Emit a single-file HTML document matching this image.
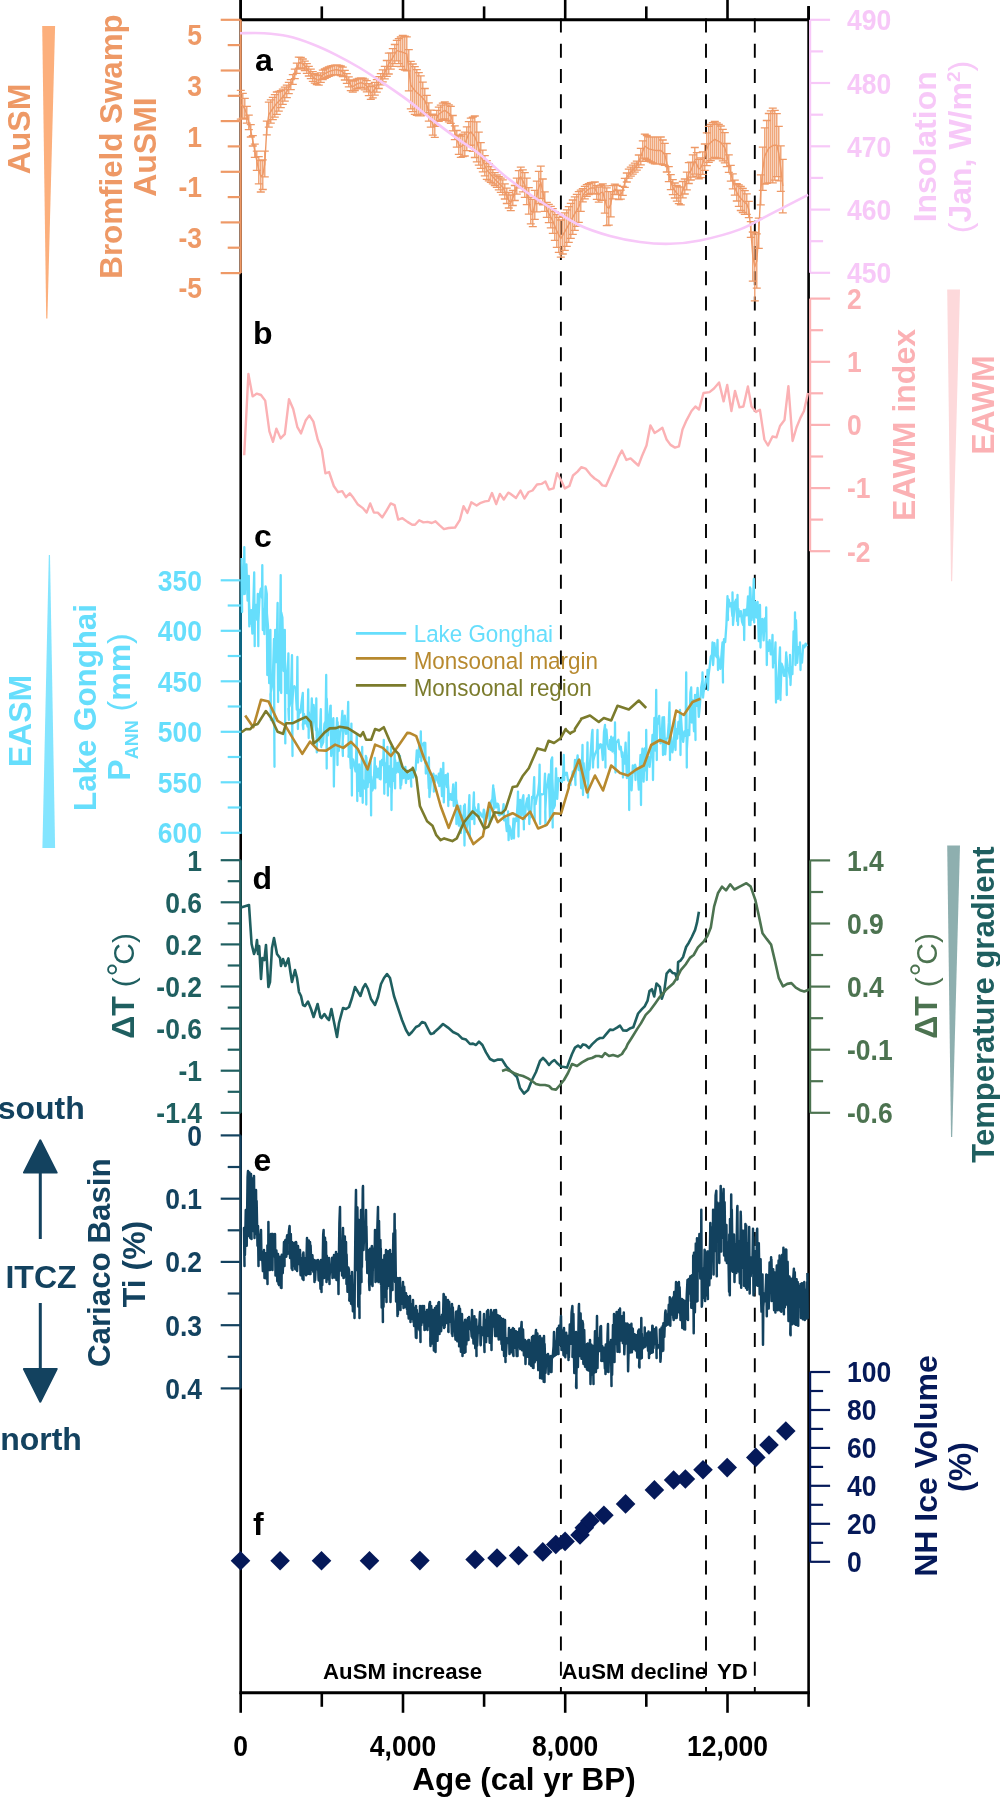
<!DOCTYPE html>
<html><head><meta charset="utf-8"><style>
html,body{margin:0;padding:0;background:#fff;width:1000px;height:1797px;overflow:hidden}
svg{display:block;will-change:transform}
text{font-family:"Liberation Sans", sans-serif}
</style></head><body>
<svg width="1000" height="1797" viewBox="0 0 1000 1797">
<rect width="1000" height="1797" fill="#fff"/>
<line x1="239.5" y1="19.8" x2="809.8" y2="19.8" stroke="#000" stroke-width="3" />
<line x1="239.5" y1="1692.8" x2="809.8" y2="1692.8" stroke="#000" stroke-width="3" />
<line x1="240.7" y1="0.0" x2="240.7" y2="1693.8" stroke="#000" stroke-width="2.6" />
<line x1="808.6" y1="6.0" x2="808.6" y2="1693.8" stroke="#000" stroke-width="2.6" />
<line x1="240.7" y1="19.8" x2="240.7" y2="-1.2" stroke="#000" stroke-width="2.6" />
<line x1="240.7" y1="1692.8" x2="240.7" y2="1712.8" stroke="#000" stroke-width="2.6" />
<line x1="321.8" y1="19.8" x2="321.8" y2="6.4" stroke="#000" stroke-width="2.6" />
<line x1="321.8" y1="1692.8" x2="321.8" y2="1706.8" stroke="#000" stroke-width="2.6" />
<line x1="403.0" y1="19.8" x2="403.0" y2="-1.2" stroke="#000" stroke-width="2.6" />
<line x1="403.0" y1="1692.8" x2="403.0" y2="1712.8" stroke="#000" stroke-width="2.6" />
<line x1="484.1" y1="19.8" x2="484.1" y2="6.4" stroke="#000" stroke-width="2.6" />
<line x1="484.1" y1="1692.8" x2="484.1" y2="1706.8" stroke="#000" stroke-width="2.6" />
<line x1="565.2" y1="19.8" x2="565.2" y2="-1.2" stroke="#000" stroke-width="2.6" />
<line x1="565.2" y1="1692.8" x2="565.2" y2="1712.8" stroke="#000" stroke-width="2.6" />
<line x1="646.3" y1="19.8" x2="646.3" y2="6.4" stroke="#000" stroke-width="2.6" />
<line x1="646.3" y1="1692.8" x2="646.3" y2="1706.8" stroke="#000" stroke-width="2.6" />
<line x1="727.5" y1="19.8" x2="727.5" y2="-1.2" stroke="#000" stroke-width="2.6" />
<line x1="727.5" y1="1692.8" x2="727.5" y2="1712.8" stroke="#000" stroke-width="2.6" />
<line x1="808.6" y1="19.8" x2="808.6" y2="6.4" stroke="#000" stroke-width="2.6" />
<line x1="808.6" y1="1692.8" x2="808.6" y2="1706.8" stroke="#000" stroke-width="2.6" />
<text x="0" y="0" fill="#000" font-size="26.5" font-weight="bold" text-anchor="middle" transform="translate(240.7 1756.0) scale(1 1.09)" >0</text>
<text x="0" y="0" fill="#000" font-size="26.5" font-weight="bold" text-anchor="middle" transform="translate(403.0 1756.0) scale(1 1.09)" >4,000</text>
<text x="0" y="0" fill="#000" font-size="26.5" font-weight="bold" text-anchor="middle" transform="translate(565.2 1756.0) scale(1 1.09)" >8,000</text>
<text x="0" y="0" fill="#000" font-size="26.5" font-weight="bold" text-anchor="middle" transform="translate(727.5 1756.0) scale(1 1.09)" >12,000</text>
<text x="524.0" y="1790.0" fill="#000" font-size="31.4" font-weight="bold" text-anchor="middle" >Age (cal yr BP)</text>
<line x1="560.9" y1="18.5" x2="560.9" y2="1692.8" stroke="#000" stroke-width="1.9" stroke-dasharray="14 11.28"/>
<line x1="706.0" y1="18.5" x2="706.0" y2="1692.8" stroke="#000" stroke-width="1.9" stroke-dasharray="14 11.28"/>
<line x1="754.8" y1="18.5" x2="754.8" y2="1692.8" stroke="#000" stroke-width="1.9" stroke-dasharray="14 11.28"/>
<line x1="240.7" y1="19.8" x2="240.7" y2="273.1" stroke="#EE9966" stroke-width="2.2" />
<line x1="240.7" y1="19.8" x2="220.7" y2="19.8" stroke="#EE9966" stroke-width="2.2" />
<line x1="240.7" y1="45.1" x2="227.7" y2="45.1" stroke="#EE9966" stroke-width="2.2" />
<line x1="240.7" y1="70.5" x2="220.7" y2="70.5" stroke="#EE9966" stroke-width="2.2" />
<line x1="240.7" y1="95.8" x2="227.7" y2="95.8" stroke="#EE9966" stroke-width="2.2" />
<line x1="240.7" y1="121.1" x2="220.7" y2="121.1" stroke="#EE9966" stroke-width="2.2" />
<line x1="240.7" y1="146.4" x2="227.7" y2="146.4" stroke="#EE9966" stroke-width="2.2" />
<line x1="240.7" y1="171.8" x2="220.7" y2="171.8" stroke="#EE9966" stroke-width="2.2" />
<line x1="240.7" y1="197.1" x2="227.7" y2="197.1" stroke="#EE9966" stroke-width="2.2" />
<line x1="240.7" y1="222.4" x2="220.7" y2="222.4" stroke="#EE9966" stroke-width="2.2" />
<line x1="240.7" y1="247.7" x2="227.7" y2="247.7" stroke="#EE9966" stroke-width="2.2" />
<line x1="240.7" y1="273.1" x2="220.7" y2="273.1" stroke="#EE9966" stroke-width="2.2" />
<text x="0" y="0" fill="#EE9966" font-size="26.5" font-weight="bold" text-anchor="end" transform="translate(202.0 45.2) scale(1 1.09)" >5</text>
<text x="0" y="0" fill="#EE9966" font-size="26.5" font-weight="bold" text-anchor="end" transform="translate(202.0 95.9) scale(1 1.09)" >3</text>
<text x="0" y="0" fill="#EE9966" font-size="26.5" font-weight="bold" text-anchor="end" transform="translate(202.0 146.5) scale(1 1.09)" >1</text>
<text x="0" y="0" fill="#EE9966" font-size="26.5" font-weight="bold" text-anchor="end" transform="translate(202.0 197.2) scale(1 1.09)" >-1</text>
<text x="0" y="0" fill="#EE9966" font-size="26.5" font-weight="bold" text-anchor="end" transform="translate(202.0 247.8) scale(1 1.09)" >-3</text>
<text x="0" y="0" fill="#EE9966" font-size="26.5" font-weight="bold" text-anchor="end" transform="translate(202.0 298.4) scale(1 1.09)" >-5</text>
<line x1="810.1" y1="19.8" x2="810.1" y2="272.8" stroke="#F7C8F8" stroke-width="2.2" />
<line x1="810.1" y1="19.8" x2="830.1" y2="19.8" stroke="#F7C8F8" stroke-width="2.2" />
<line x1="810.1" y1="51.4" x2="823.1" y2="51.4" stroke="#F7C8F8" stroke-width="2.2" />
<line x1="810.1" y1="83.0" x2="830.1" y2="83.0" stroke="#F7C8F8" stroke-width="2.2" />
<line x1="810.1" y1="114.7" x2="823.1" y2="114.7" stroke="#F7C8F8" stroke-width="2.2" />
<line x1="810.1" y1="146.3" x2="830.1" y2="146.3" stroke="#F7C8F8" stroke-width="2.2" />
<line x1="810.1" y1="177.9" x2="823.1" y2="177.9" stroke="#F7C8F8" stroke-width="2.2" />
<line x1="810.1" y1="209.6" x2="830.1" y2="209.6" stroke="#F7C8F8" stroke-width="2.2" />
<line x1="810.1" y1="241.2" x2="823.1" y2="241.2" stroke="#F7C8F8" stroke-width="2.2" />
<line x1="810.1" y1="272.8" x2="830.1" y2="272.8" stroke="#F7C8F8" stroke-width="2.2" />
<text x="0" y="0" fill="#F7C8F8" font-size="26.5" font-weight="bold" text-anchor="start" transform="translate(847.0 30.2) scale(1 1.09)" >490</text>
<text x="0" y="0" fill="#F7C8F8" font-size="26.5" font-weight="bold" text-anchor="start" transform="translate(847.0 93.5) scale(1 1.09)" >480</text>
<text x="0" y="0" fill="#F7C8F8" font-size="26.5" font-weight="bold" text-anchor="start" transform="translate(847.0 156.7) scale(1 1.09)" >470</text>
<text x="0" y="0" fill="#F7C8F8" font-size="26.5" font-weight="bold" text-anchor="start" transform="translate(847.0 220.0) scale(1 1.09)" >460</text>
<text x="0" y="0" fill="#F7C8F8" font-size="26.5" font-weight="bold" text-anchor="start" transform="translate(847.0 283.2) scale(1 1.09)" >450</text>
<line x1="810.1" y1="298.6" x2="810.1" y2="551.2" stroke="#FBB1B4" stroke-width="2.2" />
<line x1="810.1" y1="298.6" x2="830.1" y2="298.6" stroke="#FBB1B4" stroke-width="2.2" />
<line x1="810.1" y1="330.2" x2="823.1" y2="330.2" stroke="#FBB1B4" stroke-width="2.2" />
<line x1="810.1" y1="361.8" x2="830.1" y2="361.8" stroke="#FBB1B4" stroke-width="2.2" />
<line x1="810.1" y1="393.3" x2="823.1" y2="393.3" stroke="#FBB1B4" stroke-width="2.2" />
<line x1="810.1" y1="424.9" x2="830.1" y2="424.9" stroke="#FBB1B4" stroke-width="2.2" />
<line x1="810.1" y1="456.5" x2="823.1" y2="456.5" stroke="#FBB1B4" stroke-width="2.2" />
<line x1="810.1" y1="488.1" x2="830.1" y2="488.1" stroke="#FBB1B4" stroke-width="2.2" />
<line x1="810.1" y1="519.6" x2="823.1" y2="519.6" stroke="#FBB1B4" stroke-width="2.2" />
<line x1="810.1" y1="551.2" x2="830.1" y2="551.2" stroke="#FBB1B4" stroke-width="2.2" />
<text x="0" y="0" fill="#FBB1B4" font-size="26.5" font-weight="bold" text-anchor="start" transform="translate(847.0 309.0) scale(1 1.09)" >2</text>
<text x="0" y="0" fill="#FBB1B4" font-size="26.5" font-weight="bold" text-anchor="start" transform="translate(847.0 372.1) scale(1 1.09)" >1</text>
<text x="0" y="0" fill="#FBB1B4" font-size="26.5" font-weight="bold" text-anchor="start" transform="translate(847.0 435.3) scale(1 1.09)" >0</text>
<text x="0" y="0" fill="#FBB1B4" font-size="26.5" font-weight="bold" text-anchor="start" transform="translate(847.0 498.4) scale(1 1.09)" >-1</text>
<text x="0" y="0" fill="#FBB1B4" font-size="26.5" font-weight="bold" text-anchor="start" transform="translate(847.0 561.6) scale(1 1.09)" >-2</text>
<line x1="240.7" y1="600.0" x2="240.7" y2="834.0" stroke="#0C6683" stroke-width="2.6" />
<line x1="240.7" y1="580.3" x2="240.7" y2="832.8" stroke="#0C6683" stroke-width="2.2" />
<line x1="240.7" y1="580.3" x2="220.7" y2="580.3" stroke="#66DEFC" stroke-width="2.2" />
<line x1="240.7" y1="605.5" x2="227.7" y2="605.5" stroke="#66DEFC" stroke-width="2.2" />
<line x1="240.7" y1="630.8" x2="220.7" y2="630.8" stroke="#66DEFC" stroke-width="2.2" />
<line x1="240.7" y1="656.0" x2="227.7" y2="656.0" stroke="#66DEFC" stroke-width="2.2" />
<line x1="240.7" y1="681.3" x2="220.7" y2="681.3" stroke="#66DEFC" stroke-width="2.2" />
<line x1="240.7" y1="706.5" x2="227.7" y2="706.5" stroke="#66DEFC" stroke-width="2.2" />
<line x1="240.7" y1="731.8" x2="220.7" y2="731.8" stroke="#66DEFC" stroke-width="2.2" />
<line x1="240.7" y1="757.0" x2="227.7" y2="757.0" stroke="#66DEFC" stroke-width="2.2" />
<line x1="240.7" y1="782.3" x2="220.7" y2="782.3" stroke="#66DEFC" stroke-width="2.2" />
<line x1="240.7" y1="807.5" x2="227.7" y2="807.5" stroke="#66DEFC" stroke-width="2.2" />
<line x1="240.7" y1="832.8" x2="220.7" y2="832.8" stroke="#66DEFC" stroke-width="2.2" />
<text x="0" y="0" fill="#66DEFC" font-size="26.5" font-weight="bold" text-anchor="end" transform="translate(202.0 590.7) scale(1 1.09)" >350</text>
<text x="0" y="0" fill="#66DEFC" font-size="26.5" font-weight="bold" text-anchor="end" transform="translate(202.0 641.2) scale(1 1.09)" >400</text>
<text x="0" y="0" fill="#66DEFC" font-size="26.5" font-weight="bold" text-anchor="end" transform="translate(202.0 691.7) scale(1 1.09)" >450</text>
<text x="0" y="0" fill="#66DEFC" font-size="26.5" font-weight="bold" text-anchor="end" transform="translate(202.0 742.2) scale(1 1.09)" >500</text>
<text x="0" y="0" fill="#66DEFC" font-size="26.5" font-weight="bold" text-anchor="end" transform="translate(202.0 792.7) scale(1 1.09)" >550</text>
<text x="0" y="0" fill="#66DEFC" font-size="26.5" font-weight="bold" text-anchor="end" transform="translate(202.0 843.2) scale(1 1.09)" >600</text>
<line x1="240.7" y1="860.2" x2="240.7" y2="1112.8" stroke="#1F5F60" stroke-width="2.2" />
<line x1="240.7" y1="860.2" x2="220.7" y2="860.2" stroke="#1F5F60" stroke-width="2.2" />
<line x1="240.7" y1="881.2" x2="227.7" y2="881.2" stroke="#1F5F60" stroke-width="2.2" />
<line x1="240.7" y1="902.3" x2="220.7" y2="902.3" stroke="#1F5F60" stroke-width="2.2" />
<line x1="240.7" y1="923.4" x2="227.7" y2="923.4" stroke="#1F5F60" stroke-width="2.2" />
<line x1="240.7" y1="944.4" x2="220.7" y2="944.4" stroke="#1F5F60" stroke-width="2.2" />
<line x1="240.7" y1="965.5" x2="227.7" y2="965.5" stroke="#1F5F60" stroke-width="2.2" />
<line x1="240.7" y1="986.5" x2="220.7" y2="986.5" stroke="#1F5F60" stroke-width="2.2" />
<line x1="240.7" y1="1007.6" x2="227.7" y2="1007.6" stroke="#1F5F60" stroke-width="2.2" />
<line x1="240.7" y1="1028.6" x2="220.7" y2="1028.6" stroke="#1F5F60" stroke-width="2.2" />
<line x1="240.7" y1="1049.7" x2="227.7" y2="1049.7" stroke="#1F5F60" stroke-width="2.2" />
<line x1="240.7" y1="1070.7" x2="220.7" y2="1070.7" stroke="#1F5F60" stroke-width="2.2" />
<line x1="240.7" y1="1091.8" x2="227.7" y2="1091.8" stroke="#1F5F60" stroke-width="2.2" />
<line x1="240.7" y1="1112.8" x2="220.7" y2="1112.8" stroke="#1F5F60" stroke-width="2.2" />
<text x="0" y="0" fill="#1F5F60" font-size="26.5" font-weight="bold" text-anchor="end" transform="translate(202.0 870.6) scale(1 1.09)" >1</text>
<text x="0" y="0" fill="#1F5F60" font-size="26.5" font-weight="bold" text-anchor="end" transform="translate(202.0 912.7) scale(1 1.09)" >0.6</text>
<text x="0" y="0" fill="#1F5F60" font-size="26.5" font-weight="bold" text-anchor="end" transform="translate(202.0 954.8) scale(1 1.09)" >0.2</text>
<text x="0" y="0" fill="#1F5F60" font-size="26.5" font-weight="bold" text-anchor="end" transform="translate(202.0 996.9) scale(1 1.09)" >-0.2</text>
<text x="0" y="0" fill="#1F5F60" font-size="26.5" font-weight="bold" text-anchor="end" transform="translate(202.0 1039.0) scale(1 1.09)" >-0.6</text>
<text x="0" y="0" fill="#1F5F60" font-size="26.5" font-weight="bold" text-anchor="end" transform="translate(202.0 1081.1) scale(1 1.09)" >-1</text>
<text x="0" y="0" fill="#1F5F60" font-size="26.5" font-weight="bold" text-anchor="end" transform="translate(202.0 1123.2) scale(1 1.09)" >-1.4</text>
<line x1="810.1" y1="860.4" x2="810.1" y2="1112.8" stroke="#4C7350" stroke-width="2.2" />
<line x1="810.1" y1="860.4" x2="830.1" y2="860.4" stroke="#4C7350" stroke-width="2.2" />
<line x1="810.1" y1="892.0" x2="823.1" y2="892.0" stroke="#4C7350" stroke-width="2.2" />
<line x1="810.1" y1="923.5" x2="830.1" y2="923.5" stroke="#4C7350" stroke-width="2.2" />
<line x1="810.1" y1="955.0" x2="823.1" y2="955.0" stroke="#4C7350" stroke-width="2.2" />
<line x1="810.1" y1="986.6" x2="830.1" y2="986.6" stroke="#4C7350" stroke-width="2.2" />
<line x1="810.1" y1="1018.2" x2="823.1" y2="1018.2" stroke="#4C7350" stroke-width="2.2" />
<line x1="810.1" y1="1049.7" x2="830.1" y2="1049.7" stroke="#4C7350" stroke-width="2.2" />
<line x1="810.1" y1="1081.2" x2="823.1" y2="1081.2" stroke="#4C7350" stroke-width="2.2" />
<line x1="810.1" y1="1112.8" x2="830.1" y2="1112.8" stroke="#4C7350" stroke-width="2.2" />
<text x="0" y="0" fill="#4C7350" font-size="26.5" font-weight="bold" text-anchor="start" transform="translate(847.0 870.8) scale(1 1.09)" >1.4</text>
<text x="0" y="0" fill="#4C7350" font-size="26.5" font-weight="bold" text-anchor="start" transform="translate(847.0 933.9) scale(1 1.09)" >0.9</text>
<text x="0" y="0" fill="#4C7350" font-size="26.5" font-weight="bold" text-anchor="start" transform="translate(847.0 997.0) scale(1 1.09)" >0.4</text>
<text x="0" y="0" fill="#4C7350" font-size="26.5" font-weight="bold" text-anchor="start" transform="translate(847.0 1060.1) scale(1 1.09)" >-0.1</text>
<text x="0" y="0" fill="#4C7350" font-size="26.5" font-weight="bold" text-anchor="start" transform="translate(847.0 1123.2) scale(1 1.09)" >-0.6</text>
<line x1="240.7" y1="1135.4" x2="240.7" y2="1388.4" stroke="#13425F" stroke-width="2.2" />
<line x1="240.7" y1="1135.4" x2="220.7" y2="1135.4" stroke="#13425F" stroke-width="2.2" />
<line x1="240.7" y1="1167.0" x2="227.7" y2="1167.0" stroke="#13425F" stroke-width="2.2" />
<line x1="240.7" y1="1198.7" x2="220.7" y2="1198.7" stroke="#13425F" stroke-width="2.2" />
<line x1="240.7" y1="1230.3" x2="227.7" y2="1230.3" stroke="#13425F" stroke-width="2.2" />
<line x1="240.7" y1="1261.9" x2="220.7" y2="1261.9" stroke="#13425F" stroke-width="2.2" />
<line x1="240.7" y1="1293.5" x2="227.7" y2="1293.5" stroke="#13425F" stroke-width="2.2" />
<line x1="240.7" y1="1325.2" x2="220.7" y2="1325.2" stroke="#13425F" stroke-width="2.2" />
<line x1="240.7" y1="1356.8" x2="227.7" y2="1356.8" stroke="#13425F" stroke-width="2.2" />
<line x1="240.7" y1="1388.4" x2="220.7" y2="1388.4" stroke="#13425F" stroke-width="2.2" />
<text x="0" y="0" fill="#13425F" font-size="26.5" font-weight="bold" text-anchor="end" transform="translate(202.0 1145.8) scale(1 1.09)" >0</text>
<text x="0" y="0" fill="#13425F" font-size="26.5" font-weight="bold" text-anchor="end" transform="translate(202.0 1209.1) scale(1 1.09)" >0.1</text>
<text x="0" y="0" fill="#13425F" font-size="26.5" font-weight="bold" text-anchor="end" transform="translate(202.0 1272.3) scale(1 1.09)" >0.2</text>
<text x="0" y="0" fill="#13425F" font-size="26.5" font-weight="bold" text-anchor="end" transform="translate(202.0 1335.6) scale(1 1.09)" >0.3</text>
<text x="0" y="0" fill="#13425F" font-size="26.5" font-weight="bold" text-anchor="end" transform="translate(202.0 1398.8) scale(1 1.09)" >0.4</text>
<line x1="810.1" y1="1372.0" x2="810.1" y2="1561.8" stroke="#051959" stroke-width="2.2" />
<line x1="810.1" y1="1372.0" x2="830.1" y2="1372.0" stroke="#051959" stroke-width="2.2" />
<line x1="810.1" y1="1391.0" x2="823.1" y2="1391.0" stroke="#051959" stroke-width="2.2" />
<line x1="810.1" y1="1410.0" x2="830.1" y2="1410.0" stroke="#051959" stroke-width="2.2" />
<line x1="810.1" y1="1428.9" x2="823.1" y2="1428.9" stroke="#051959" stroke-width="2.2" />
<line x1="810.1" y1="1447.9" x2="830.1" y2="1447.9" stroke="#051959" stroke-width="2.2" />
<line x1="810.1" y1="1466.9" x2="823.1" y2="1466.9" stroke="#051959" stroke-width="2.2" />
<line x1="810.1" y1="1485.8" x2="830.1" y2="1485.8" stroke="#051959" stroke-width="2.2" />
<line x1="810.1" y1="1504.8" x2="823.1" y2="1504.8" stroke="#051959" stroke-width="2.2" />
<line x1="810.1" y1="1523.8" x2="830.1" y2="1523.8" stroke="#051959" stroke-width="2.2" />
<line x1="810.1" y1="1542.8" x2="823.1" y2="1542.8" stroke="#051959" stroke-width="2.2" />
<line x1="810.1" y1="1561.8" x2="830.1" y2="1561.8" stroke="#051959" stroke-width="2.2" />
<text x="0" y="0" fill="#051959" font-size="26.5" font-weight="bold" text-anchor="start" transform="translate(847.0 1382.4) scale(1 1.09)" >100</text>
<text x="0" y="0" fill="#051959" font-size="26.5" font-weight="bold" text-anchor="start" transform="translate(847.0 1420.4) scale(1 1.09)" >80</text>
<text x="0" y="0" fill="#051959" font-size="26.5" font-weight="bold" text-anchor="start" transform="translate(847.0 1458.3) scale(1 1.09)" >60</text>
<text x="0" y="0" fill="#051959" font-size="26.5" font-weight="bold" text-anchor="start" transform="translate(847.0 1496.2) scale(1 1.09)" >40</text>
<text x="0" y="0" fill="#051959" font-size="26.5" font-weight="bold" text-anchor="start" transform="translate(847.0 1534.2) scale(1 1.09)" >20</text>
<text x="0" y="0" fill="#051959" font-size="26.5" font-weight="bold" text-anchor="start" transform="translate(847.0 1572.2) scale(1 1.09)" >0</text>
<text x="30.3" y="129.0" fill="#EE9966" font-size="32" font-weight="bold" text-anchor="middle" transform="rotate(-90 30.3 129.0)" >AuSM</text>
<polygon points="42.2,26 55.1,26 47.4,318.6 46.199999999999996,318.6" fill="#FCAF7C"/>
<text x="121.5" y="146.5" fill="#EE9966" font-size="31.3" font-weight="bold" text-anchor="middle" transform="rotate(-90 121.5 146.5)" >Bromfield Swamp</text>
<text x="156.0" y="147.0" fill="#EE9966" font-size="32" font-weight="bold" text-anchor="middle" transform="rotate(-90 156.0 147.0)" >AuSMI</text>
<text x="936.0" y="146.8" fill="#F7C8F8" font-size="32" font-weight="bold" text-anchor="middle" transform="rotate(-90 936.0 146.8)" >Insolation</text>
<text x="970.5" y="147.0" fill="#F7C8F8" font-size="32" font-weight="bold" text-anchor="middle" transform="rotate(-90 970.5 147.0)" ><tspan font-weight="normal">(</tspan>Jan, W/m<tspan font-size="19" dy="-11">2</tspan><tspan dy="11" font-weight="normal">)</tspan></text>
<text x="915.0" y="425.0" fill="#FBB1B4" font-size="32" font-weight="bold" text-anchor="middle" transform="rotate(-90 915.0 425.0)" >EAWM index</text>
<polygon points="947.2,289.4 960,289.4 952.2,581.3 951.0,581.3" fill="#FDD9DB"/>
<text x="994.0" y="405.0" fill="#FBB1B4" font-size="32" font-weight="bold" text-anchor="middle" transform="rotate(-90 994.0 405.0)" >EAWM</text>
<text x="31.0" y="721.0" fill="#66DEFC" font-size="32" font-weight="bold" text-anchor="middle" transform="rotate(-90 31.0 721.0)" >EASM</text>
<polygon points="48.8,555.1 50.0,555.1 55.1,848.1 42.4,848.1" fill="#84E5FF"/>
<text x="95.5" y="707.5" fill="#66DEFC" font-size="31.3" font-weight="bold" text-anchor="middle" transform="rotate(-90 95.5 707.5)" >Lake Gonghai</text>
<text x="130.2" y="780.7" fill="#66DEFC" font-size="32" font-weight="bold" text-anchor="start" transform="rotate(-90 130.2 780.7)" >P<tspan font-size="18" dy="7.6">ANN</tspan><tspan dy="-7.6" font-weight="normal"> (</tspan>mm<tspan font-weight="normal">)</tspan></text>
<text x="134.1" y="1038.7" fill="#1F5F60" font-size="32" font-weight="bold" text-anchor="start" transform="rotate(-90 134.1 1038.7)" >ΔT <tspan font-weight="normal" font-size="30">(<tspan font-size="35" dy="-2.2" dx="0.8">°</tspan><tspan dy="2.2" dx="-2.2">C)</tspan></tspan></text>
<text x="937.4" y="1038.7" fill="#4C7350" font-size="32" font-weight="bold" text-anchor="start" transform="rotate(-90 937.4 1038.7)" >ΔT <tspan font-weight="normal" font-size="30">(<tspan font-size="35" dy="-2.2" dx="0.8">°</tspan><tspan dy="2.2" dx="-2.2">C)</tspan></tspan></text>
<polygon points="947.2,845.4 960,845.4 952.2,1137 951.0,1137" fill="#8EAFAF"/>
<text x="994.0" y="1004.5" fill="#1F5F60" font-size="31" font-weight="bold" text-anchor="middle" transform="rotate(-90 994.0 1004.5)" >Temperature gradient</text>
<text x="-2.3" y="1118.5" fill="#13425F" font-size="32" font-weight="bold" text-anchor="start" >south</text>
<text x="41.0" y="1287.5" fill="#13425F" font-size="32" font-weight="bold" text-anchor="middle" >ITCZ</text>
<text x="41.0" y="1450.0" fill="#13425F" font-size="32" font-weight="bold" text-anchor="middle" >north</text>
<polygon points="40.3,1140.3 56.7,1172.6 23.9,1172.6" fill="#13425F" stroke="#13425F" stroke-width="2" stroke-linejoin="round"/>
<line x1="40.3" y1="1173.0" x2="40.3" y2="1239.0" stroke="#13425F" stroke-width="3" />
<polygon points="40.3,1401.7 56.7,1369 23.9,1369" fill="#13425F" stroke="#13425F" stroke-width="2" stroke-linejoin="round"/>
<line x1="40.3" y1="1303.0" x2="40.3" y2="1369.0" stroke="#13425F" stroke-width="3" />
<text x="110.5" y="1262.7" fill="#13425F" font-size="31.3" font-weight="bold" text-anchor="middle" transform="rotate(-90 110.5 1262.7)" >Cariaco Basin</text>
<text x="144.7" y="1264.0" fill="#13425F" font-size="32" font-weight="bold" text-anchor="middle" transform="rotate(-90 144.7 1264.0)" >Ti (%)</text>
<text x="936.6" y="1466.0" fill="#051959" font-size="32" font-weight="bold" text-anchor="middle" transform="rotate(-90 936.6 1466.0)" >NH Ice Volume</text>
<text x="970.5" y="1467.0" fill="#051959" font-size="32" font-weight="bold" text-anchor="middle" transform="rotate(-90 970.5 1467.0)" >(%)</text>
<text x="255.0" y="71.3" fill="#000" font-size="32" font-weight="bold" text-anchor="start" >a</text>
<text x="253.0" y="344.2" fill="#000" font-size="32" font-weight="bold" text-anchor="start" >b</text>
<text x="254.1" y="546.7" fill="#000" font-size="32" font-weight="bold" text-anchor="start" >c</text>
<text x="252.5" y="888.5" fill="#000" font-size="32" font-weight="bold" text-anchor="start" >d</text>
<text x="253.5" y="1171.0" fill="#000" font-size="32" font-weight="bold" text-anchor="start" >e</text>
<text x="253.0" y="1534.5" fill="#000" font-size="32" font-weight="bold" text-anchor="start" >f</text>
<text x="323.1" y="1679.3" fill="#000" font-size="22.2" font-weight="bold" text-anchor="start" >AuSM increase</text>
<text x="561.6" y="1679.3" fill="#000" font-size="22.2" font-weight="bold" text-anchor="start" >AuSM decline</text>
<text x="717.0" y="1679.3" fill="#000" font-size="22.2" font-weight="bold" text-anchor="start" >YD</text>
<line x1="355.9" y1="633.4" x2="406.2" y2="633.4" stroke="#66DEFC" stroke-width="2.6" />
<line x1="355.9" y1="658.4" x2="406.2" y2="658.4" stroke="#B7892E" stroke-width="2.6" />
<line x1="355.9" y1="685.4" x2="406.2" y2="685.4" stroke="#7B7B2C" stroke-width="2.6" />
<text x="0" y="0" fill="#66DEFC" font-size="22.4" font-weight="normal" text-anchor="start" transform="translate(413.7 641.5) scale(1 1.1)" >Lake Gonghai</text>
<text x="0" y="0" fill="#B7892E" font-size="22.4" font-weight="normal" text-anchor="start" transform="translate(413.7 668.8) scale(1 1.1)" >Monsoonal margin</text>
<text x="0" y="0" fill="#7B7B2C" font-size="22.4" font-weight="normal" text-anchor="start" transform="translate(413.7 696.0) scale(1 1.1)" >Monsoonal region</text>
<path d="M240.8 90.4V119.2M236.8 90.4h8M236.8 119.2h8M242.8 93.4V118.2M238.8 93.4h8M238.8 118.2h8M244.8 98.4V119.2M240.8 98.4h8M240.8 119.2h8M246.8 106.4V123.2M242.8 106.4h8M242.8 123.2h8M248.8 115.2V129.6M244.8 115.2h8M244.8 129.6h8M250.8 124.6V137.0M246.8 124.6h8M246.8 137.0h8M252.8 135.6V146.0M248.8 135.6h8M248.8 146.0h8M254.8 144.2V157.4M250.8 144.2h8M250.8 157.4h8M256.8 151.2V170.4M252.8 151.2h8M252.8 170.4h8M258.8 156.7V183.9M254.8 156.7h8M254.8 183.9h8M260.8 160.5V192.0M256.8 160.5h8M256.8 192.0h8M262.8 159.9V189.5M258.8 159.9h8M258.8 189.5h8M264.8 151.2V176.8M260.8 151.2h8M260.8 176.8h8M266.8 121.2V134.8M262.8 121.2h8M262.8 134.8h8M268.8 102.2V127.2M264.8 102.2h8M264.8 127.2h8M270.8 99.8V123.2M266.8 99.8h8M266.8 123.2h8M272.8 97.3V119.7M268.8 97.3h8M268.8 119.7h8M274.8 94.7V117.1M270.8 94.7h8M270.8 117.1h8M276.8 92.0V114.4M272.8 92.0h8M272.8 114.4h8M278.8 91.3V111.1M274.8 91.3h8M274.8 111.1h8M280.8 90.7V107.7M276.8 90.7h8M276.8 107.7h8M282.8 89.2V104.4M278.8 89.2h8M278.8 104.4h8M284.8 87.2V101.1M280.8 87.2h8M280.8 101.1h8M286.8 85.1V97.6M282.8 85.1h8M282.8 97.6h8M288.8 82.4V93.6M284.8 82.4h8M284.8 93.6h8M290.8 79.7V89.6M286.8 79.7h8M286.8 89.6h8M292.8 74.7V84.3M288.8 74.7h8M288.8 84.3h8M294.8 69.1V78.7M290.8 69.1h8M290.8 78.7h8M296.8 63.2V73.4M292.8 63.2h8M292.8 73.4h8M298.8 57.2V68.2M294.8 57.2h8M294.8 68.2h8M300.8 57.3V68.0M296.8 57.3h8M296.8 68.0h8M302.8 59.0V69.0M298.8 59.0h8M298.8 69.0h8M304.8 61.1V70.7M300.8 61.1h8M300.8 70.7h8M306.8 63.7V73.3M302.8 63.7h8M302.8 73.3h8M308.8 66.4V76.0M304.8 66.4h8M304.8 76.0h8M310.8 69.1V78.7M306.8 69.1h8M306.8 78.7h8M312.8 71.7V81.3M308.8 71.7h8M308.8 81.3h8M314.8 73.6V83.2M310.8 73.6h8M310.8 83.2h8M316.8 74.9V84.5M312.8 74.9h8M312.8 84.5h8M318.8 75.5V85.1M314.8 75.5h8M314.8 85.1h8M320.8 72.8V82.4M316.8 72.8h8M316.8 82.4h8M322.8 70.1V79.7M318.8 70.1h8M318.8 79.7h8M324.8 68.8V78.4M320.8 68.8h8M320.8 78.4h8M326.8 67.8V77.4M322.8 67.8h8M322.8 77.4h8M328.8 66.8V76.4M324.8 66.8h8M324.8 76.4h8M330.8 66.1V75.7M326.8 66.1h8M326.8 75.7h8M332.8 65.6V75.2M328.8 65.6h8M328.8 75.2h8M334.8 65.1V74.7M330.8 65.1h8M330.8 74.7h8M336.8 65.0V74.6M332.8 65.0h8M332.8 74.6h8M338.8 65.5V75.1M334.8 65.5h8M334.8 75.1h8M340.8 66.0V75.6M336.8 66.0h8M336.8 75.6h8M342.8 67.1V76.7M338.8 67.1h8M338.8 76.7h8M344.8 70.4V80.0M340.8 70.4h8M340.8 80.0h8M346.8 73.7V83.3M342.8 73.7h8M342.8 83.3h8M348.8 76.8V86.9M344.8 76.8h8M344.8 86.9h8M350.8 79.8V90.6M346.8 79.8h8M346.8 90.6h8M352.8 81.2V92.1M348.8 81.2h8M348.8 92.1h8M354.8 80.2V90.5M350.8 80.2h8M350.8 90.5h8M356.8 79.2V88.8M352.8 79.2h8M352.8 88.8h8M358.8 78.5V88.1M354.8 78.5h8M354.8 88.1h8M360.8 77.9V87.5M356.8 77.9h8M356.8 87.5h8M362.8 78.2V88.2M358.8 78.2h8M358.8 88.2h8M364.8 79.2V89.9M360.8 79.2h8M360.8 89.9h8M366.8 80.6V91.9M362.8 80.6h8M362.8 91.9h8M368.8 83.6V95.6M364.8 83.6h8M364.8 95.6h8M370.8 86.6V99.3M366.8 86.6h8M366.8 99.3h8M372.8 85.1V97.9M368.8 85.1h8M368.8 97.9h8M374.8 82.4V95.2M370.8 82.4h8M370.8 95.2h8M376.8 79.6V92.1M372.8 79.6h8M372.8 92.1h8M378.8 76.6V88.5M374.8 76.6h8M374.8 88.5h8M380.8 73.6V84.8M376.8 73.6h8M376.8 84.8h8M382.8 69.9V81.8M378.8 69.9h8M378.8 81.8h8M384.8 66.3V78.8M380.8 66.3h8M380.8 78.8h8M386.8 60.5V76.3M382.8 60.5h8M382.8 76.3h8M388.8 53.2V74.0M384.8 53.2h8M384.8 74.0h8M390.8 52.8V69.1M386.8 52.8h8M386.8 69.1h8M392.8 48.7V66.3M388.8 48.7h8M388.8 66.3h8M394.8 44.5V63.6M390.8 44.5h8M390.8 63.6h8M396.8 40.4V60.8M392.8 40.4h8M392.8 60.8h8M398.8 38.7V63.7M394.8 38.7h8M394.8 63.7h8M400.8 37.0V66.5M396.8 37.0h8M396.8 66.5h8M402.8 35.3V69.3M398.8 35.3h8M398.8 69.3h8M404.8 36.1V70.1M400.8 36.1h8M400.8 70.1h8M406.8 36.9V70.9M402.8 36.9h8M402.8 70.9h8M408.8 49.6V90.8M404.8 49.6h8M404.8 90.8h8M410.8 61.3V108.9M406.8 61.3h8M406.8 108.9h8M412.8 64.0V111.6M408.8 64.0h8M408.8 111.6h8M414.8 66.7V114.3M410.8 66.7h8M410.8 114.3h8M416.8 69.6V115.4M412.8 69.6h8M412.8 115.4h8M418.8 72.6V115.8M414.8 72.6h8M414.8 115.8h8M420.8 75.9V115.9M416.8 75.9h8M416.8 115.9h8M422.8 82.2V114.2M418.8 82.2h8M418.8 114.2h8M424.8 88.5V112.6M420.8 88.5h8M420.8 112.6h8M426.8 95.4V115.1M422.8 95.4h8M422.8 115.1h8M428.8 102.8V121.1M424.8 102.8h8M424.8 121.1h8M430.8 110.1V127.1M426.8 110.1h8M426.8 127.1h8M432.8 114.1V135.1M428.8 114.1h8M428.8 135.1h8M434.8 115.4V137.4M430.8 115.4h8M430.8 137.4h8M436.8 110.4V126.4M432.8 110.4h8M432.8 126.4h8M438.8 107.2V121.4M434.8 107.2h8M434.8 121.4h8M440.8 105.2V120.4M436.8 105.2h8M436.8 120.4h8M442.8 103.2V119.4M438.8 103.2h8M438.8 119.4h8M444.8 101.9V118.9M440.8 101.9h8M440.8 118.9h8M446.8 103.4V120.4M442.8 103.4h8M442.8 120.4h8M448.8 104.9V121.9M444.8 104.9h8M444.8 121.9h8M450.8 106.4V123.4M446.8 106.4h8M446.8 123.4h8M452.8 115.5V130.9M448.8 115.5h8M448.8 130.9h8M454.8 125.9V139.7M450.8 125.9h8M450.8 139.7h8M456.8 130.5V147.1M452.8 130.5h8M452.8 147.1h8M458.8 135.2V154.4M454.8 135.2h8M454.8 154.4h8M460.8 136.2V157.3M456.8 136.2h8M456.8 157.3h8M462.8 134.2V156.7M458.8 134.2h8M458.8 156.7h8M464.8 132.2V156.0M460.8 132.2h8M460.8 156.0h8M466.8 126.9V150.7M462.8 126.9h8M462.8 150.7h8M468.8 121.6V145.4M464.8 121.6h8M464.8 145.4h8M470.8 118.1V145.2M466.8 118.1h8M466.8 145.2h8M472.8 117.1V151.4M468.8 117.1h8M468.8 151.4h8M474.8 116.0V157.5M470.8 116.0h8M470.8 157.5h8M476.8 121.8V161.9M472.8 121.8h8M472.8 161.9h8M478.8 132.2V165.1M474.8 132.2h8M474.8 165.1h8M480.8 142.6V168.3M476.8 142.6h8M476.8 168.3h8M482.8 150.1V171.9M478.8 150.1h8M478.8 171.9h8M484.8 155.6V175.9M480.8 155.6h8M480.8 175.9h8M486.8 160.6V179.3M482.8 160.6h8M482.8 179.3h8M488.8 163.6V180.9M484.8 163.6h8M484.8 180.9h8M490.8 166.6V182.4M486.8 166.6h8M486.8 182.4h8M492.8 169.6V183.9M488.8 169.6h8M488.8 183.9h8M494.8 172.6V185.5M490.8 172.6h8M490.8 185.5h8M496.8 175.0V187.4M492.8 175.0h8M492.8 187.4h8M498.8 176.6V189.8M494.8 176.6h8M494.8 189.8h8M500.8 178.2V192.3M496.8 178.2h8M496.8 192.3h8M502.8 179.8V194.8M498.8 179.8h8M498.8 194.8h8M504.8 183.9V199.0M500.8 183.9h8M500.8 199.0h8M506.8 188.2V203.5M502.8 188.2h8M502.8 203.5h8M508.8 192.5V208.0M504.8 192.5h8M504.8 208.0h8M510.8 195.0V210.6M506.8 195.0h8M506.8 210.6h8M512.8 190.3V205.5M508.8 190.3h8M508.8 205.5h8M514.8 185.5V200.5M510.8 185.5h8M510.8 200.5h8M516.8 178.2V194.2M512.8 178.2h8M512.8 194.2h8M518.8 170.6V187.8M514.8 170.6h8M514.8 187.8h8M520.8 167.1V186.2M516.8 167.1h8M516.8 186.2h8M522.8 169.9V191.8M518.8 169.9h8M518.8 191.8h8M524.8 172.7V197.4M520.8 172.7h8M520.8 197.4h8M526.8 178.2V204.6M522.8 178.2h8M522.8 204.6h8M528.8 187.7V214.2M524.8 187.7h8M524.8 214.2h8M530.8 197.3V223.8M526.8 197.3h8M526.8 223.8h8M532.8 199.4V226.7M528.8 199.4h8M528.8 226.7h8M534.8 190.4V219.4M530.8 190.4h8M530.8 219.4h8M536.8 181.1V211.8M532.8 181.1h8M532.8 211.8h8M538.8 171.4V203.7M534.8 171.4h8M534.8 203.7h8M540.8 166.2V198.5M536.8 166.2h8M536.8 198.5h8M542.8 179.0V204.9M538.8 179.0h8M538.8 204.9h8M544.8 191.8V211.3M540.8 191.8h8M540.8 211.3h8M546.8 202.4V217.4M542.8 202.4h8M542.8 217.4h8M548.8 204.4V222.6M544.8 204.4h8M544.8 222.6h8M550.8 206.4V227.8M546.8 206.4h8M546.8 227.8h8M552.8 208.6V233.4M548.8 208.6h8M548.8 233.4h8M554.8 211.7V240.3M550.8 211.7h8M550.8 240.3h8M556.8 214.7V247.3M552.8 214.7h8M552.8 247.3h8M558.8 217.4V252.4M554.8 217.4h8M554.8 252.4h8M560.8 220.0V257.2M556.8 220.0h8M556.8 257.2h8M562.8 216.3V254.0M558.8 216.3h8M558.8 254.0h8M564.8 212.8V250.4M560.8 212.8h8M560.8 250.4h8M566.8 209.8V246.4M562.8 209.8h8M562.8 246.4h8M568.8 206.7V242.4M564.8 206.7h8M564.8 242.4h8M570.8 203.3V238.4M566.8 203.3h8M566.8 238.4h8M572.8 200.0V234.4M568.8 200.0h8M568.8 234.4h8M574.8 196.9V230.4M570.8 196.9h8M570.8 230.4h8M576.8 194.3V226.4M572.8 194.3h8M572.8 226.4h8M578.8 191.6V222.4M574.8 191.6h8M574.8 222.4h8M580.8 190.1V211.3M576.8 190.1h8M576.8 211.3h8M582.8 188.7V201.8M578.8 188.7h8M578.8 201.8h8M584.8 186.4V198.8M580.8 186.4h8M580.8 198.8h8M586.8 184.6V196.3M582.8 184.6h8M582.8 196.3h8M588.8 183.6V194.7M584.8 183.6h8M584.8 194.7h8M590.8 182.7V193.3M586.8 182.7h8M586.8 193.3h8M592.8 182.4V193.6M588.8 182.4h8M588.8 193.6h8M594.8 182.0V194.0M590.8 182.0h8M590.8 194.0h8M596.8 185.6V199.4M592.8 185.6h8M592.8 199.4h8M598.8 187.2V202.2M594.8 187.2h8M594.8 202.2h8M600.8 185.2V200.2M596.8 185.2h8M596.8 200.2h8M602.8 183.8V200.4M598.8 183.8h8M598.8 200.4h8M604.8 185.8V213.1M600.8 185.8h8M600.8 213.1h8M606.8 187.8V225.7M602.8 187.8h8M602.8 225.7h8M608.8 191.6V225.2M604.8 191.6h8M604.8 225.2h8M610.8 191.6V216.8M606.8 191.6h8M606.8 216.8h8M612.8 185.6V198.8M608.8 185.6h8M608.8 198.8h8M614.8 184.1V194.3M610.8 184.1h8M610.8 194.3h8M616.8 185.5V194.5M612.8 185.5h8M612.8 194.5h8M618.8 190.5V199.5M614.8 190.5h8M614.8 199.5h8M620.8 190.1V199.1M616.8 190.1h8M616.8 199.1h8M622.8 186.3V195.3M618.8 186.3h8M618.8 195.3h8M624.8 178.3V187.3M620.8 178.3h8M620.8 187.3h8M626.8 173.0V182.0M622.8 173.0h8M622.8 182.0h8M628.8 169.2V178.2M624.8 169.2h8M624.8 178.2h8M630.8 167.2V176.2M626.8 167.2h8M626.8 176.2h8M632.8 165.2V174.2M628.8 165.2h8M628.8 174.2h8M634.8 163.2V172.2M630.8 163.2h8M630.8 172.2h8M636.8 161.2V170.2M632.8 161.2h8M632.8 170.2h8M638.8 155.0V167.6M634.8 155.0h8M634.8 167.6h8M640.8 148.3V164.9M636.8 148.3h8M636.8 164.9h8M642.8 140.8V161.4M638.8 140.8h8M638.8 161.4h8M644.8 134.2V158.2M640.8 134.2h8M640.8 158.2h8M646.8 135.5V159.5M642.8 135.5h8M642.8 159.5h8M648.8 136.9V160.9M644.8 136.9h8M644.8 160.9h8M650.8 137.0V161.9M646.8 137.0h8M646.8 161.9h8M652.8 137.0V162.9M648.8 137.0h8M648.8 162.9h8M654.8 137.0V163.9M650.8 137.0h8M650.8 163.9h8M656.8 137.0V164.0M652.8 137.0h8M652.8 164.0h8M658.8 137.0V164.0M654.8 137.0h8M654.8 164.0h8M660.8 137.0V164.0M656.8 137.0h8M656.8 164.0h8M662.8 140.0V164.6M658.8 140.0h8M658.8 164.6h8M664.8 143.3V165.3M660.8 143.3h8M660.8 165.3h8M666.8 153.6V172.0M662.8 153.6h8M662.8 172.0h8M668.8 166.7V181.7M664.8 166.7h8M664.8 181.7h8M670.8 174.7V189.7M666.8 174.7h8M666.8 189.7h8M672.8 179.7V194.7M668.8 179.7h8M668.8 194.7h8M674.8 183.0V198.0M670.8 183.0h8M670.8 198.0h8M676.8 185.5V201.1M672.8 185.5h8M672.8 201.1h8M678.8 186.9V203.7M674.8 186.9h8M674.8 203.7h8M680.8 187.1V204.9M676.8 187.1h8M676.8 204.9h8M682.8 181.5V197.8M678.8 181.5h8M678.8 197.8h8M684.8 179.0V194.0M680.8 179.0h8M680.8 194.0h8M686.8 172.1V189.8M682.8 172.1h8M682.8 189.8h8M688.8 162.7V183.5M684.8 162.7h8M684.8 183.5h8M690.8 162.2V180.0M686.8 162.2h8M686.8 180.0h8M692.8 154.9V177.1M688.8 154.9h8M688.8 177.1h8M694.8 147.5V174.1M690.8 147.5h8M690.8 174.1h8M696.8 152.6V176.1M692.8 152.6h8M692.8 176.1h8M698.8 159.3V178.8M694.8 159.3h8M694.8 178.8h8M700.8 157.9V177.7M696.8 157.9h8M696.8 177.7h8M702.8 151.9V174.3M698.8 151.9h8M698.8 174.3h8M704.8 144.0V170.4M700.8 144.0h8M700.8 170.4h8M706.8 132.8V165.6M702.8 132.8h8M702.8 165.6h8M708.8 126.3V162.3M704.8 126.3h8M704.8 162.3h8M710.8 124.5V160.6M706.8 124.5h8M706.8 160.6h8M712.8 122.7V158.8M708.8 122.7h8M708.8 158.8h8M714.8 121.3V157.3M710.8 121.3h8M710.8 157.3h8M716.8 122.8V157.8M712.8 122.8h8M712.8 157.8h8M718.8 124.3V158.3M714.8 124.3h8M714.8 158.3h8M720.8 126.0V158.9M716.8 126.0h8M716.8 158.9h8M722.8 129.4V160.9M718.8 129.4h8M718.8 160.9h8M724.8 132.7V162.9M720.8 132.7h8M720.8 162.9h8M726.8 143.5V166.7M722.8 143.5h8M722.8 166.7h8M728.8 154.9V172.4M724.8 154.9h8M724.8 172.4h8M730.8 165.3V181.2M726.8 165.3h8M726.8 181.2h8M732.8 173.8V188.8M728.8 173.8h8M728.8 188.8h8M734.8 180.2V195.2M730.8 180.2h8M730.8 195.2h8M736.8 183.6V201.0M732.8 183.6h8M732.8 201.0h8M738.8 184.9V206.3M734.8 184.9h8M734.8 206.3h8M740.8 186.5V210.5M736.8 186.5h8M736.8 210.5h8M742.8 188.5V212.5M738.8 188.5h8M738.8 212.5h8M744.8 190.6V214.3M740.8 190.6h8M740.8 214.3h8M746.8 193.8V214.3M742.8 193.8h8M742.8 214.3h8M748.8 201.3V217.7M744.8 201.3h8M744.8 217.7h8M750.8 221.7V237.4M746.8 221.7h8M746.8 237.4h8M752.8 232.0V281.2M748.8 232.0h8M748.8 281.2h8M754.8 232.4V300.9M750.8 232.4h8M750.8 300.9h8M756.8 233.9V288.2M752.8 233.9h8M752.8 288.2h8M758.8 218.2V248.3M754.8 218.2h8M754.8 248.3h8M760.8 174.8V204.9M756.8 174.8h8M756.8 204.9h8M762.8 147.2V190.4M758.8 147.2h8M758.8 190.4h8M764.8 127.8V184.1M760.8 127.8h8M760.8 184.1h8M766.8 120.5V183.4M762.8 120.5h8M762.8 183.4h8M768.8 113.5V182.8M764.8 113.5h8M764.8 182.8h8M770.8 110.8V182.8M766.8 110.8h8M766.8 182.8h8M772.8 108.1V182.8M768.8 108.1h8M768.8 182.8h8M774.8 110.3V180.1M770.8 110.3h8M770.8 180.1h8M776.8 113.7V176.7M772.8 113.7h8M772.8 176.7h8M778.8 126.3V180.8M774.8 126.3h8M774.8 180.8h8M780.8 145.9V191.4M776.8 145.9h8M776.8 191.4h8M782.8 159.3V212.8M778.8 159.3h8M778.8 212.8h8" stroke="#EE9966" stroke-width="1.3" fill="none"/>
<polyline points="240.8,104.8 242.8,105.8 244.8,108.8 246.8,114.8 248.8,122.4 250.8,130.8 252.8,140.8 254.8,150.8 256.8,160.8 258.8,170.3 260.8,176.3 262.8,174.7 264.8,164.0 266.8,128.0 268.8,114.7 270.8,111.5 272.8,108.5 274.8,105.9 276.8,103.2 278.8,101.2 280.8,99.2 282.8,96.8 284.8,94.1 286.8,91.3 288.8,88.0 290.8,84.7 292.8,79.5 294.8,73.9 296.8,68.3 298.8,62.7 300.8,62.7 302.8,64.0 304.8,65.9 306.8,68.5 308.8,71.2 310.8,73.9 312.8,76.5 314.8,78.4 316.8,79.7 318.8,80.3 320.8,77.6 322.8,74.9 324.8,73.6 326.8,72.6 328.8,71.6 330.8,70.9 332.8,70.4 334.8,69.9 336.8,69.8 338.8,70.3 340.8,70.8 342.8,71.9 344.8,75.2 346.8,78.5 348.8,81.9 350.8,85.2 352.8,86.7 354.8,85.3 356.8,84.0 358.8,83.3 360.8,82.7 362.8,83.2 364.8,84.5 366.8,86.3 368.8,89.6 370.8,92.9 372.8,91.5 374.8,88.8 376.8,85.9 378.8,82.5 380.8,79.2 382.8,75.9 384.8,72.5 386.8,68.4 388.8,63.6 390.8,60.9 392.8,57.5 394.8,54.0 396.8,50.6 398.8,51.2 400.8,51.7 402.8,52.3 404.8,53.1 406.8,53.9 408.8,70.2 410.8,85.1 412.8,87.8 414.8,90.5 416.8,92.5 418.8,94.2 420.8,95.9 422.8,98.2 424.8,100.6 426.8,105.3 428.8,111.9 430.8,118.6 432.8,124.6 434.8,126.4 436.8,118.4 438.8,114.3 440.8,112.8 442.8,111.3 444.8,110.4 446.8,111.9 448.8,113.4 450.8,114.9 452.8,123.2 454.8,132.8 456.8,138.8 458.8,144.8 460.8,146.8 462.8,145.4 464.8,144.1 466.8,138.8 468.8,133.5 470.8,131.7 472.8,134.2 474.8,136.8 476.8,141.9 478.8,148.7 480.8,155.5 482.8,161.0 484.8,165.7 486.8,170.0 488.8,172.2 490.8,174.5 492.8,176.8 494.8,179.0 496.8,181.2 498.8,183.2 500.8,185.3 502.8,187.3 504.8,191.5 506.8,195.9 508.8,200.3 510.8,202.8 512.8,197.9 514.8,193.0 516.8,186.2 518.8,179.2 520.8,176.7 522.8,180.9 524.8,185.1 526.8,191.4 528.8,201.0 530.8,210.6 532.8,213.0 534.8,204.9 536.8,196.4 538.8,187.5 540.8,182.3 542.8,191.9 544.8,201.5 546.8,209.9 548.8,213.5 550.8,217.1 552.8,221.0 554.8,226.0 556.8,231.0 558.8,234.9 560.8,238.6 562.8,235.1 564.8,231.6 566.8,228.1 568.8,224.5 570.8,220.9 572.8,217.2 574.8,213.7 576.8,210.3 578.8,207.0 580.8,200.7 582.8,195.3 584.8,192.6 586.8,190.5 588.8,189.1 590.8,188.0 592.8,188.0 594.8,188.0 596.8,192.5 598.8,194.7 600.8,192.7 602.8,192.1 604.8,199.4 606.8,206.8 608.8,208.4 610.8,204.2 612.8,192.2 614.8,189.2 616.8,190.0 618.8,195.0 620.8,194.6 622.8,190.8 624.8,182.8 626.8,177.5 628.8,173.7 630.8,171.7 632.8,169.7 634.8,167.7 636.8,165.7 638.8,161.3 640.8,156.6 642.8,151.1 644.8,146.2 646.8,147.5 648.8,148.9 650.8,149.4 652.8,149.9 654.8,150.4 656.8,150.5 658.8,150.5 660.8,150.5 662.8,152.3 664.8,154.3 666.8,162.8 668.8,174.2 670.8,182.2 672.8,187.2 674.8,190.5 676.8,193.3 678.8,195.3 680.8,196.0 682.8,189.7 684.8,186.5 686.8,180.9 688.8,173.1 690.8,171.1 692.8,166.0 694.8,160.8 696.8,164.4 698.8,169.0 700.8,167.8 702.8,163.1 704.8,157.2 706.8,149.2 708.8,144.3 710.8,142.5 712.8,140.8 714.8,139.3 716.8,140.3 718.8,141.3 720.8,142.5 722.8,145.2 724.8,147.8 726.8,155.1 728.8,163.6 730.8,173.2 732.8,181.3 734.8,187.7 736.8,192.3 738.8,195.6 740.8,198.5 742.8,200.5 744.8,202.5 746.8,204.1 748.8,209.5 750.8,229.5 752.8,256.6 754.8,266.7 756.8,261.0 758.8,233.3 760.8,189.9 762.8,168.8 764.8,155.9 766.8,151.9 768.8,148.1 770.8,146.8 772.8,145.5 774.8,145.2 776.8,145.2 778.8,153.6 780.8,168.7 782.8,186.0" fill="none" stroke="#EE9966" stroke-width="1.4" stroke-linejoin="round" />
<path d="M240.0,33.2 C244.0,33.2 256.0,32.7 264.0,33.2 C272.0,33.7 280.0,34.5 288.0,36.3 C296.0,38.1 304.0,40.9 312.0,44.0 C320.0,47.1 328.0,50.8 336.0,54.8 C344.0,58.8 352.0,63.2 360.0,68.0 C368.0,72.8 376.0,78.2 384.0,83.6 C392.0,89.0 400.0,94.4 408.0,100.4 C416.0,106.4 424.0,113.4 432.0,119.6 C440.0,125.8 448.0,131.8 456.0,137.6 C464.0,143.4 471.8,148.0 480.0,154.4 C488.2,160.8 497.3,169.8 505.0,176.0 C512.7,182.2 518.5,186.4 526.0,191.7 C533.5,196.9 541.0,201.9 550.0,207.5 C559.0,213.1 570.0,220.8 580.0,225.5 C590.0,230.2 600.0,233.2 610.0,236.0 C620.0,238.8 630.0,240.7 640.0,242.0 C650.0,243.3 660.0,244.1 670.0,243.8 C680.0,243.6 688.3,242.9 700.0,240.5 C711.7,238.1 728.3,233.8 740.0,229.4 C751.7,225.0 758.7,220.1 770.0,214.3 C781.3,208.5 801.7,198.1 808.0,194.8" fill="none" stroke="#F7C8F8" stroke-width="2.6" />
<polyline points="244.2,455.2 248.4,374.0 252.6,396.4 256.8,393.6 261.0,395.0 265.2,400.6 269.4,431.4 273.0,441.8 276.4,428.6 280.6,438.4 284.8,434.2 289.0,399.2 293.2,409.0 297.4,427.2 301.0,433.4 305.8,420.2 309.4,415.4 313.4,421.6 317.8,439.8 321.8,449.6 325.4,473.4 329.1,472.0 333.8,486.0 338.0,492.2 342.2,491.1 345.9,497.2 349.8,493.3 353.4,497.8 357.6,504.2 363.2,508.4 366.6,512.6 370.2,503.4 373.9,512.6 377.8,512.6 382.3,517.4 386.2,511.2 390.7,503.4 394.6,505.1 398.2,519.6 402.4,518.2 407.5,521.9 412.2,524.7 415.0,524.7 419.2,520.2 423.4,522.4 427.6,521.9 431.8,523.0 435.5,521.3 439.4,525.2 443.9,529.1 448.6,528.0 455.1,527.5 459.8,520.2 463.5,506.2 467.4,512.9 471.3,502.3 476.6,505.6 480.8,502.8 485.0,501.4 488.7,500.9 492.0,493.0 496.2,504.2 499.9,493.9 503.8,499.5 508.3,492.7 510.0,493.5 516.0,498.0 520.5,490.5 524.4,498.6 528.6,492.0 532.5,490.5 537.0,484.5 541.5,483.9 545.4,481.5 549.0,489.6 553.5,488.4 557.1,473.1 561.0,480.0 564.9,488.4 569.4,486.0 573.0,475.5 577.5,471.6 581.4,467.1 585.6,468.6 590.4,474.6 594.6,478.5 598.5,480.9 602.4,485.4 606.0,486.0 610.5,475.5 615.0,465.6 618.6,456.6 621.9,450.6 626.4,459.9 630.6,458.4 634.5,462.0 638.4,465.6 642.0,456.0 646.5,445.5 650.4,425.4 654.6,432.9 658.5,430.5 662.4,427.8 666.6,439.5 670.5,444.9 675.0,447.6 678.9,446.4 682.5,429.6 686.4,420.6 691.5,411.0 695.4,406.5 699.0,409.5 703.5,393.0 709.5,392.1 714.0,388.5 719.1,382.5 723.6,401.4 727.2,384.9 731.4,411.0 735.0,390.9 739.5,407.4 743.4,406.5 747.9,386.4 751.5,406.5 756.0,411.9 759.9,409.8 764.4,439.5 768.0,445.5 772.5,436.5 776.4,437.4 780.0,426.0 784.5,420.0 788.4,386.1 792.6,441.0 796.5,427.5 800.4,417.9 804.0,411.0 807.9,393.0" fill="none" stroke="#FBB1B4" stroke-width="2.4" stroke-linejoin="round" />
<polyline points="241.6,558.0 242.1,612.0 241.6,561.7 242.8,594.4 244.0,578.9 244.3,547.2 244.8,594.0 245.2,578.3 246.4,564.3 247.6,600.6 248.8,576.0 249.3,626.4 248.8,595.3 250.0,623.7 251.2,610.1 252.4,633.6 253.6,595.1 254.2,572.4 254.7,646.2 254.8,617.2 256.0,604.9 257.2,620.0 257.8,594.0 258.3,646.2 258.4,622.0 259.6,595.9 260.8,588.6 262.0,597.9 262.3,565.2 262.8,630.0 263.2,608.9 264.4,634.1 265.6,586.4 266.8,594.0 267.3,675.0 266.8,611.9 268.0,626.1 269.2,683.2 270.4,630.0 270.9,720.0 270.4,694.2 271.6,687.6 272.8,679.4 274.0,639.0 274.5,766.8 274.0,687.7 275.2,629.8 276.4,662.1 277.6,603.0 278.1,702.0 277.6,632.6 278.8,690.7 280.0,641.2 280.7,575.1 281.2,693.0 281.2,612.2 282.4,617.4 283.6,671.0 284.8,630.0 285.3,743.4 284.8,657.1 286.0,677.6 287.2,693.1 288.4,653.4 288.9,720.0 288.4,708.4 289.6,705.8 290.8,697.0 292.0,655.2 292.5,756.0 292.0,710.2 293.2,688.0 294.4,686.2 295.6,688.5 296.8,709.6 297.4,657.0 297.9,729.0 298.0,723.4 299.2,709.8 300.4,712.6 301.6,701.9 302.8,693.0 303.3,729.0 302.8,724.8 304.0,713.9 305.2,723.3 306.4,721.5 307.6,726.6 308.2,689.4 308.7,738.0 308.8,712.1 310.0,723.9 311.2,717.0 311.8,698.4 312.3,738.0 312.4,733.4 313.6,704.9 314.8,718.2 316.0,730.3 316.3,698.4 316.8,752.4 317.2,728.3 318.4,737.6 319.6,741.5 320.8,709.2 321.3,747.0 320.8,734.9 322.0,745.0 323.2,742.3 324.4,724.0 325.6,721.2 326.2,675.0 326.7,768.6 326.8,698.7 328.0,735.3 329.2,719.3 330.4,705.9 330.7,705.6 331.2,756.0 331.6,749.6 332.8,719.8 333.4,718.2 333.9,786.6 334.0,772.9 335.2,728.0 336.4,733.9 337.0,718.2 337.5,765.0 337.6,722.1 338.8,751.0 340.0,732.2 341.2,727.1 342.4,711.0 342.9,756.0 342.4,745.7 343.6,729.4 344.8,715.6 346.0,733.9 347.2,733.1 348.2,702.0 348.7,756.0 348.4,756.7 349.6,745.4 350.8,768.1 351.4,723.6 351.9,795.6 352.0,758.5 353.2,759.8 354.4,766.5 355.6,771.4 356.8,734.4 357.3,801.0 356.8,764.0 358.0,791.2 359.2,764.5 360.4,796.2 361.6,767.5 362.2,747.0 362.7,802.8 362.8,779.7 364.0,783.8 365.2,788.6 365.8,756.0 366.3,804.6 366.4,757.4 367.6,787.2 368.8,767.9 370.0,782.3 370.6,761.4 371.1,815.4 371.2,776.7 372.4,790.5 373.6,786.0 374.8,757.8 375.3,788.4 374.8,778.8 376.0,766.3 377.2,777.4 378.4,768.7 379.6,778.9 380.2,761.4 380.7,779.4 380.8,768.3 382.0,760.0 383.2,765.0 383.8,739.8 384.3,793.8 384.4,762.5 385.6,782.3 386.8,762.0 387.4,747.0 387.9,795.6 388.0,777.4 389.2,766.5 390.4,786.8 391.0,747.0 391.5,810.0 391.6,794.5 392.8,768.8 394.0,780.8 394.6,752.4 395.1,788.4 395.2,760.2 396.4,772.5 397.6,763.0 398.8,772.0 400.0,756.0 400.5,788.4 400.0,771.1 401.2,784.8 402.4,769.7 403.6,778.0 404.8,775.8 405.4,766.8 405.9,783.0 406.0,782.3 407.2,770.7 408.4,778.8 409.6,775.8 410.8,772.2 411.3,786.6 410.8,778.9 412.0,771.6 413.2,777.6 414.4,772.3 415.6,770.0 416.8,750.4 418.0,762.5 419.2,745.2 420.4,756.8 420.8,731.3 421.3,761.0 421.6,746.2 422.8,744.0 424.0,742.7 425.2,763.2 425.3,743.0 425.8,773.6 426.4,765.2 427.6,762.8 428.8,788.5 428.9,757.4 429.4,797.0 430.0,791.7 431.2,778.0 432.4,776.7 433.4,773.6 433.9,791.6 433.6,774.3 434.8,782.4 436.0,775.7 437.2,779.1 438.4,783.3 438.8,773.6 439.3,786.2 439.6,781.6 440.8,769.0 442.0,796.1 443.2,776.0 443.3,762.8 443.8,802.4 444.4,777.6 445.6,775.1 446.8,787.0 447.8,773.6 448.3,806.0 448.0,784.4 449.2,799.7 450.4,794.1 451.6,799.9 452.8,790.3 453.2,784.4 453.7,806.0 454.0,794.5 455.2,797.4 455.9,782.6 456.4,824.0 456.4,800.0 457.6,806.3 458.8,825.7 460.0,814.0 460.4,806.0 460.9,833.0 461.2,815.0 462.4,821.4 463.6,814.7 464.0,806.0 464.5,845.6 464.8,804.4 466.0,831.8 467.2,825.3 468.4,816.4 469.4,795.2 469.9,838.4 469.6,814.2 470.8,812.9 472.0,819.2 473.2,808.0 473.9,792.5 474.4,824.0 474.4,806.7 475.6,810.3 476.8,810.3 478.0,813.7 478.4,804.2 478.9,816.8 479.2,811.9 480.4,812.9 481.6,816.0 482.8,817.3 483.8,809.6 484.3,824.0 484.0,809.8 485.2,817.1 486.4,818.3 487.6,814.7 488.8,814.5 489.2,806.0 489.7,822.2 490.0,814.0 491.2,801.3 492.4,798.9 493.2,785.3 493.7,809.6 493.6,788.4 494.8,797.6 496.0,807.7 497.2,803.6 498.2,804.2 498.7,815.0 498.4,805.4 499.6,815.3 500.8,813.8 502.0,814.1 503.2,807.6 503.6,804.2 504.1,820.4 504.4,818.3 505.6,818.9 506.8,831.2 508.0,822.4 508.1,811.4 508.6,840.2 509.2,825.6 510.4,828.9 511.6,838.8 512.8,831.3 513.5,818.6 514.0,838.4 514.0,830.3 515.2,818.6 516.4,821.0 517.6,803.5 518.0,791.6 518.5,836.6 518.8,804.7 520.0,799.9 521.2,815.6 522.4,799.4 523.4,795.2 523.9,829.4 523.6,812.4 524.8,818.8 526.0,804.5 527.2,798.5 528.4,809.8 528.8,795.2 529.3,824.0 529.6,814.6 530.8,817.2 532.0,796.9 533.2,797.9 534.2,777.2 534.7,820.4 534.4,802.6 535.6,804.2 536.8,797.2 538.0,793.7 539.2,782.0 539.6,764.6 540.1,824.0 540.4,793.8 541.6,794.1 542.8,794.3 544.0,793.8 545.0,773.6 545.5,825.8 545.2,811.7 546.4,789.8 547.6,783.1 548.8,774.3 550.0,819.4 551.2,760.3 552.2,757.4 552.7,827.6 552.4,779.4 553.6,808.3 554.8,805.5 556.0,768.4 557.2,798.9 558.4,778.2 559.6,781.1 560.8,779.6 562.0,781.9 563.2,774.2 563.8,755.0 564.2,780.0 564.4,772.0 565.6,774.7 566.8,772.7 568.0,780.3 569.2,781.3 570.0,780.0 570.5,785.0 570.4,781.6 571.6,779.9 572.8,771.3 574.0,776.6 575.0,760.0 575.5,785.0 575.2,778.6 576.4,765.3 577.6,755.4 578.8,770.1 580.0,760.9 581.2,788.3 582.4,750.7 582.5,745.0 583.0,795.0 583.6,763.1 584.8,784.0 586.0,774.5 587.2,759.4 587.5,742.5 588.0,797.5 588.4,771.0 589.6,768.9 590.8,751.7 592.0,733.3 592.5,730.0 593.0,767.5 593.2,761.1 594.4,756.0 595.6,752.7 596.8,749.7 597.5,730.0 598.0,767.5 598.0,744.0 599.2,748.5 600.4,744.3 601.6,744.8 602.8,760.0 604.0,731.9 605.0,725.0 605.5,767.5 605.2,734.1 606.4,729.5 607.6,744.3 608.8,748.9 610.0,748.1 610.0,740.0 610.5,750.0 611.2,736.6 612.4,751.5 613.6,737.6 614.8,753.7 615.0,722.5 615.5,772.5 616.0,742.5 617.2,741.8 618.4,739.8 619.6,749.4 620.8,746.8 622.0,757.2 622.5,752.5 623.0,777.5 623.2,758.5 624.4,763.6 625.6,742.7 626.8,778.0 628.0,773.5 628.8,732.5 629.2,810.0 629.2,771.1 630.4,780.4 631.6,790.3 632.8,765.4 634.0,772.5 635.0,765.0 635.5,780.0 635.2,765.0 636.4,770.4 637.6,770.8 638.8,789.6 640.0,764.2 640.5,755.0 641.0,805.0 641.2,775.9 642.4,748.7 643.6,781.7 644.8,748.5 646.0,770.7 646.2,730.0 646.8,780.0 647.2,759.5 648.4,757.1 649.6,766.9 650.8,754.0 652.0,745.3 652.5,735.0 653.0,780.0 653.2,763.4 654.4,717.9 655.6,750.7 656.2,690.0 656.8,760.0 656.8,724.9 658.0,723.0 659.2,715.9 660.4,743.3 661.6,740.6 662.5,717.5 663.0,755.0 662.8,725.8 664.0,717.1 665.2,754.4 666.4,738.7 667.6,738.0 668.8,722.9 669.5,702.5 670.0,760.0 670.0,731.2 671.2,737.7 672.4,752.3 673.6,744.0 674.8,726.6 675.0,720.0 675.5,750.0 676.0,729.0 677.2,738.5 678.4,722.0 679.6,734.0 680.0,710.0 680.5,755.0 680.8,713.6 682.0,732.9 683.2,741.9 684.4,731.3 685.6,735.8 686.2,672.5 686.8,767.5 686.8,749.9 688.0,730.1 689.2,735.1 690.4,692.6 691.2,687.5 691.8,722.5 691.6,703.4 692.8,700.1 694.0,731.3 695.0,695.0 695.5,740.0 695.2,697.5 696.4,705.9 697.6,687.8 698.8,716.9 700.0,704.0 701.2,687.1 702.4,680.3 702.5,672.5 703.0,697.5 703.6,692.2 704.8,687.1 706.0,678.7 707.2,681.0 707.5,670.0 708.0,690.0 708.4,676.8 709.6,667.3 710.8,656.6 712.0,654.5 712.5,642.5 713.0,665.0 713.2,664.1 714.4,643.1 715.6,655.2 716.8,657.3 717.5,640.0 718.0,670.0 718.0,655.7 719.2,660.7 720.4,668.8 721.6,653.4 722.5,642.5 723.0,682.5 722.8,670.5 724.0,639.1 725.2,642.1 726.4,624.7 727.5,596.2 728.0,620.0 727.6,617.3 728.8,599.6 730.0,606.4 731.2,603.1 732.4,616.1 732.5,592.5 733.0,625.0 733.6,618.0 734.8,602.6 736.0,599.6 737.2,621.3 737.5,595.0 738.0,625.0 738.4,609.0 739.6,616.3 740.8,611.2 742.0,621.6 743.2,625.0 743.8,610.0 744.2,640.0 744.4,618.4 745.6,609.6 746.8,615.3 748.0,596.3 749.2,625.0 750.0,587.5 750.5,625.0 750.4,588.3 751.6,620.2 752.8,607.3 753.8,578.8 754.2,622.5 754.0,610.5 755.2,602.0 756.4,617.5 757.6,602.0 758.8,641.1 760.0,611.2 760.0,605.0 760.5,647.5 761.2,619.7 762.4,619.0 763.6,640.4 764.8,618.3 766.0,630.6 766.2,607.5 766.8,665.0 767.2,641.9 768.4,650.8 769.6,640.1 770.8,654.4 772.0,648.6 772.5,635.0 773.0,667.5 773.2,657.2 774.4,662.8 775.5,642.5 776.0,702.5 775.6,659.3 776.8,687.9 778.0,698.8 779.2,663.0 780.0,647.5 780.5,700.0 780.4,698.0 781.6,663.7 782.8,666.9 784.0,675.8 785.2,675.8 786.2,652.5 786.8,695.0 786.4,655.5 787.6,666.7 788.8,670.9 790.0,677.7 790.0,655.0 790.5,685.0 791.2,667.0 792.4,674.1 793.6,631.3 794.8,633.2 795.0,612.5 795.5,665.0 796.0,620.2 797.2,662.8 798.4,647.1 799.6,652.8 800.0,642.5 800.5,670.0 800.8,654.1 802.0,662.7 803.2,645.4 804.4,647.3 805.6,643.6 806.8,646.2" fill="none" stroke="#66DEFC" stroke-width="2.3" stroke-linejoin="round" />
<polyline points="245.2,715.5 253.3,727.2 261.0,699.8 268.6,701.6 277.6,720.9 285.2,725.4 293.8,739.8 302.3,753.8 310.0,741.6 318.1,750.2 326.2,750.6 335.2,744.6 343.3,747.9 351.0,741.9 357.7,748.8 367.6,769.5 375.1,744.6 382.9,747.9 391.0,756.0 400.0,743.4 407.2,732.9 410.0,733.1 416.3,736.2 424.4,759.2 432.5,777.2 440.6,806.0 448.7,827.9 457.2,805.6 464.9,826.7 473.4,844.1 482.9,836.2 489.2,802.8 497.7,822.2 504.5,816.8 512.6,813.2 523.0,818.9 530.2,811.7 538.1,828.5 546.8,824.9 554.0,813.2 560.0,813.8 561.2,813.2 568.7,788.0 568.8,785.0 578.8,760.0 579.2,759.6 587.0,792.5 587.3,792.5 595.0,775.5 603.0,790.5 611.2,765.5 620.0,773.0 628.0,775.5 636.2,769.5 643.8,765.5 651.2,745.0 660.0,740.0 668.8,743.8 676.2,710.5 683.8,715.0 692.5,702.0 700.5,698.8" fill="none" stroke="#B7892E" stroke-width="2.6" stroke-linejoin="round" />
<polyline points="241.6,732.2 246.1,729.0 250.2,729.3 253.3,725.4 257.8,723.9 265.9,711.0 271.3,718.2 277.6,731.7 283.0,733.8 286.2,723.2 292.9,723.2 299.2,720.0 306.0,716.9 310.9,722.1 313.6,743.4 318.1,739.8 324.4,732.6 329.8,728.4 336.1,728.1 339.7,726.8 347.8,728.1 355.0,732.6 360.4,736.2 363.1,732.2 366.1,739.8 371.2,739.8 375.1,729.0 379.3,730.4 383.8,727.2 389.2,739.8 393.7,748.8 398.5,753.8 402.7,767.7 407.2,772.2 412.6,768.6 412.7,767.8 416.3,777.2 419.9,806.0 427.1,821.3 432.5,825.8 436.1,834.8 440.6,840.2 444.2,838.4 452.3,841.1 456.8,838.4 464.0,822.2 472.6,811.4 478.4,816.8 484.2,828.5 488.3,826.7 494.6,812.3 501.8,813.2 505.4,809.6 512.6,787.1 517.1,786.2 522.5,776.3 528.8,768.2 537.4,748.4 545.0,750.6 548.6,740.8 554.0,743.0 560.0,738.8 561.2,737.2 565.7,729.0 566.2,730.0 570.2,733.6 570.5,733.0 574.7,730.8 575.0,728.8 581.0,719.6 581.2,718.8 590.0,715.5 598.8,722.0 603.8,718.0 611.2,720.5 617.5,705.8 628.8,709.5 638.8,700.5 646.2,708.0" fill="none" stroke="#7B7B2C" stroke-width="2.6" stroke-linejoin="round" />
<polyline points="241.0,907.6 249.0,905.0 251.6,944.0 254.0,954.0 256.0,948.0 257.0,940.0 258.0,954.0 259.2,946.0 261.0,979.0 262.4,958.0 264.4,960.0 266.0,945.0 268.4,987.0 270.0,982.0 272.0,948.0 274.0,938.0 277.0,954.0 280.0,958.0 281.0,966.0 283.0,959.0 285.4,966.0 288.4,958.4 290.4,972.0 292.0,982.0 295.0,970.0 297.0,978.0 299.0,992.0 301.0,996.0 303.0,1005.0 305.0,1006.0 308.0,1001.6 311.0,1009.0 313.6,1017.0 317.6,1004.0 320.4,1017.0 321.6,1018.0 324.4,1014.0 327.0,1018.0 329.0,1020.0 331.4,1009.0 334.0,1022.0 337.0,1037.0 339.0,1023.0 343.0,1008.0 346.0,1009.0 349.0,1007.0 352.0,998.0 355.0,987.0 358.0,992.0 360.4,996.0 363.0,988.0 365.4,984.0 368.0,989.0 371.0,999.0 375.0,1005.0 378.0,997.0 381.0,984.0 384.0,978.0 387.0,974.0 390.0,978.0 394.0,996.0 398.0,1008.0 402.0,1020.0 406.0,1030.0 409.0,1035.0 412.0,1032.0 416.0,1027.0 419.0,1025.6 422.0,1022.0 425.0,1023.0 428.0,1029.0 430.0,1033.0 431.0,1034.0 434.0,1033.0 434.0,1032.4 439.0,1028.0 443.0,1024.0 448.0,1027.6 453.0,1032.0 458.0,1034.4 462.0,1038.4 466.0,1039.6 470.0,1044.0 473.0,1043.6 476.0,1045.0 479.0,1041.6 482.4,1045.0 486.0,1052.4 490.0,1059.0 494.0,1061.0 498.0,1059.6 502.0,1059.6 506.0,1066.0 510.0,1070.4 514.0,1074.0 517.0,1077.0 520.0,1088.0 524.0,1093.6 528.0,1090.0 532.0,1080.0 536.0,1072.0 540.0,1061.0 543.0,1058.0 546.0,1061.0 549.0,1065.0 551.6,1062.0 554.4,1060.0 557.6,1063.6 561.0,1066.4 564.0,1067.0 567.0,1067.6 569.0,1062.0 572.0,1054.0 575.0,1047.6 578.0,1045.6 580.4,1047.6 583.0,1044.4 585.6,1045.0 589.0,1048.0 592.0,1044.4 597.0,1039.6 600.0,1038.0 603.0,1038.0 606.0,1034.4 610.0,1029.6 613.0,1030.0 617.0,1027.6 620.0,1025.6 622.9,1030.1 623.0,1030.4 626.7,1030.6 630.5,1028.2 633.3,1027.2 638.1,1013.5 641.9,1009.2 644.7,1006.3 647.6,1000.6 649.5,991.1 651.9,989.2 654.2,996.4 656.5,983.5 659.9,986.9 661.8,998.7 664.1,992.1 666.6,973.6 669.8,969.8 672.8,973.1 675.1,973.6 677.4,979.3 678.1,962.2 680.4,960.7 683.1,956.9 686.1,947.0 688.8,942.7 691.8,937.0 695.1,929.9 697.0,922.7 698.9,911.7" fill="none" stroke="#1F5F60" stroke-width="2.6" stroke-linejoin="round" />
<polyline points="502.0,1071.0 506.0,1069.6 510.0,1071.0 515.0,1073.6 519.0,1075.0 523.0,1076.0 528.0,1078.4 532.0,1081.0 536.0,1084.0 540.0,1085.0 545.0,1085.0 549.0,1086.0 552.0,1089.0 556.0,1089.6 560.0,1085.0 564.0,1080.0 568.0,1073.0 572.0,1064.0 577.0,1066.0 582.0,1062.4 588.0,1059.0 592.0,1058.0 596.0,1056.0 599.0,1056.0 602.0,1057.0 605.0,1053.0 609.0,1056.0 613.0,1055.0 618.0,1056.4 622.0,1054.0 623.8,1051.0 626.0,1048.0 627.6,1044.3 632.4,1036.7 637.1,1029.1 640.9,1023.4 645.7,1014.9 650.4,1010.1 655.2,1003.5 659.9,996.8 666.6,989.2 673.2,983.5 677.0,977.8 680.8,970.2 685.6,964.5 689.9,957.9 693.7,955.0 697.9,947.4 703.6,941.7 707.4,936.0 710.8,927.5 714.1,906.6 717.9,893.3 722.0,886.6 726.0,890.4 730.2,884.3 734.4,889.5 739.7,886.6 746.4,883.2 750.7,886.6 755.3,899.9 758.7,915.1 762.5,933.2 766.7,938.9 771.1,944.6 774.9,960.7 778.7,977.8 783.0,986.4 787.2,983.9 791.4,983.1 795.8,987.7 800.1,990.2 804.3,991.5 810.0,989.2" fill="none" stroke="#4C7350" stroke-width="2.6" stroke-linejoin="round" />
<polyline points="244.0,1228.0 244.5,1266.0 244.0,1228.1 244.9,1255.0 245.8,1210.1 246.7,1245.7 247.6,1177.0 248.0,1171.0 248.5,1236.0 248.5,1206.8 249.4,1172.4 250.3,1238.1 251.0,1174.0 251.5,1239.0 251.2,1205.3 252.1,1227.9 253.0,1178.2 253.9,1231.6 254.0,1176.0 254.5,1238.0 254.8,1192.4 255.7,1233.6 256.0,1190.0 256.5,1234.0 256.6,1201.0 257.5,1245.6 258.0,1226.0 258.5,1266.0 258.4,1234.4 259.3,1259.7 260.2,1239.8 261.0,1230.0 261.5,1260.0 261.1,1256.9 262.0,1252.0 262.9,1271.1 263.8,1252.2 264.0,1250.0 264.5,1278.0 264.7,1276.9 265.6,1253.3 266.5,1278.6 267.0,1254.0 267.5,1284.0 267.4,1245.4 268.3,1256.2 268.4,1222.0 268.9,1270.0 269.2,1242.1 270.1,1269.9 271.0,1233.9 271.9,1269.2 272.0,1234.0 272.5,1270.0 272.8,1234.0 273.7,1256.3 274.6,1236.6 275.0,1234.0 275.5,1274.0 275.5,1275.5 276.4,1250.6 277.3,1281.3 278.0,1254.0 278.5,1284.0 278.2,1267.0 279.1,1285.1 280.0,1256.7 280.9,1287.6 281.0,1258.0 281.5,1288.0 281.8,1254.8 282.7,1273.3 283.6,1254.8 284.0,1242.0 284.5,1266.0 284.5,1258.9 285.4,1240.0 286.3,1256.8 287.0,1236.0 287.5,1254.0 287.2,1235.3 288.1,1242.7 289.0,1230.6 289.6,1226.0 290.1,1258.0 289.9,1252.6 290.8,1234.0 291.7,1268.5 292.0,1242.0 292.5,1270.0 292.6,1252.1 293.5,1265.9 294.4,1242.8 295.3,1269.1 296.0,1242.0 296.5,1270.0 296.2,1242.4 297.1,1270.9 298.0,1246.0 298.9,1264.0 299.8,1251.6 300.0,1250.0 300.5,1274.0 300.7,1275.3 301.6,1258.6 302.5,1278.8 303.0,1254.0 303.5,1280.0 303.4,1252.4 304.3,1273.6 305.2,1258.4 306.1,1275.3 307.0,1238.0 307.5,1274.0 307.0,1249.5 307.9,1273.7 308.8,1240.4 309.7,1274.0 310.0,1242.0 310.5,1274.0 310.6,1245.5 311.5,1270.0 312.4,1255.2 313.3,1271.8 314.0,1260.0 314.5,1282.0 314.2,1260.3 315.1,1280.3 316.0,1260.4 316.9,1269.2 317.8,1268.6 318.0,1260.0 318.5,1278.0 318.7,1280.5 319.6,1261.8 320.5,1288.8 321.0,1260.0 321.5,1292.0 321.4,1264.5 322.3,1285.0 323.2,1234.6 323.6,1230.0 324.1,1278.0 324.1,1276.2 325.0,1237.7 325.9,1267.3 326.0,1242.0 326.5,1282.0 326.8,1255.7 327.7,1279.3 328.6,1261.3 329.0,1258.0 329.5,1284.0 329.5,1277.5 330.4,1264.9 331.3,1269.6 332.0,1258.0 332.5,1278.0 332.2,1257.8 333.1,1274.8 334.0,1255.1 334.9,1277.6 335.8,1260.6 336.0,1252.0 336.5,1280.0 336.7,1271.5 337.6,1264.0 338.0,1254.0 338.5,1294.0 338.5,1288.0 339.4,1223.5 340.0,1207.0 340.5,1270.0 340.3,1270.4 341.2,1247.1 342.1,1275.4 343.0,1228.0 343.5,1278.0 343.0,1228.8 343.9,1277.8 344.8,1236.4 345.7,1266.8 346.0,1242.0 346.5,1284.0 346.6,1254.6 347.5,1291.8 348.4,1267.5 349.0,1270.0 349.5,1300.0 349.3,1300.6 350.2,1275.9 351.1,1303.7 352.0,1272.0 352.5,1306.0 352.0,1272.0 352.9,1311.3 353.8,1291.8 354.0,1290.0 354.5,1318.0 354.7,1293.0 355.6,1212.3 356.0,1190.0 356.5,1270.0 356.5,1262.8 357.4,1207.6 358.3,1306.5 359.0,1220.0 359.5,1318.0 359.2,1221.9 360.1,1293.7 361.0,1210.0 361.5,1282.0 361.0,1241.5 361.9,1267.4 362.8,1188.5 363.0,1186.0 363.5,1250.0 363.7,1244.4 364.6,1227.1 365.5,1235.8 366.0,1210.0 366.5,1260.0 366.4,1226.3 367.3,1273.0 368.2,1253.0 369.0,1250.0 369.5,1290.0 369.1,1281.4 370.0,1248.8 370.9,1284.2 371.8,1246.3 372.0,1246.0 372.5,1286.0 372.7,1271.5 373.6,1248.6 374.5,1266.7 375.0,1230.0 375.5,1282.0 375.4,1242.2 376.3,1280.7 377.2,1234.1 378.0,1207.0 378.5,1282.0 378.1,1280.8 379.0,1221.0 379.9,1280.9 380.4,1240.0 380.9,1284.0 380.8,1248.6 381.7,1307.4 382.4,1260.0 382.9,1322.0 382.6,1269.1 383.5,1306.8 384.4,1255.3 385.3,1296.8 386.0,1250.0 386.5,1302.0 386.2,1252.2 387.1,1288.8 388.0,1251.3 388.9,1285.7 389.8,1253.2 390.0,1250.0 390.5,1302.0 390.7,1292.0 391.6,1261.2 392.0,1254.0 392.5,1290.0 392.5,1284.0 393.4,1233.4 394.3,1249.3 394.6,1214.0 395.1,1282.0 395.2,1230.1 396.1,1301.6 397.0,1278.0 397.5,1316.0 397.0,1282.7 397.9,1314.2 398.8,1278.2 399.7,1300.4 400.0,1278.0 400.5,1310.0 400.6,1288.0 401.5,1303.8 402.4,1292.8 403.0,1282.0 403.5,1308.0 403.3,1301.5 404.2,1286.8 405.1,1307.1 406.0,1293.2 406.9,1309.0 407.0,1296.0 407.5,1314.0 407.8,1297.0 408.7,1318.4 409.6,1305.9 410.0,1296.0 410.5,1322.0 410.5,1316.5 411.4,1304.2 412.3,1319.0 413.0,1300.0 413.5,1322.0 413.2,1307.2 414.1,1326.0 415.0,1307.8 415.9,1337.4 416.0,1306.0 416.5,1338.0 416.8,1310.1 417.7,1328.6 418.6,1314.0 419.5,1330.2 420.0,1306.0 420.5,1342.0 420.4,1309.3 421.3,1325.2 422.2,1306.1 423.1,1322.2 424.0,1306.0 424.5,1330.0 424.0,1307.1 424.9,1330.0 425.8,1312.0 426.7,1328.4 427.0,1310.0 427.5,1330.0 427.6,1310.0 428.5,1326.2 429.4,1303.8 430.0,1302.0 430.5,1346.0 430.3,1339.1 431.2,1306.1 432.1,1343.6 433.0,1309.9 433.9,1350.5 434.8,1312.3 435.0,1308.0 435.5,1352.0 435.7,1332.9 436.6,1305.9 437.5,1340.7 438.4,1302.9 439.0,1302.0 439.5,1334.0 439.3,1331.1 440.2,1316.7 441.1,1331.3 442.0,1314.7 442.9,1325.0 443.6,1294.0 444.1,1328.0 443.8,1294.4 444.7,1326.9 445.6,1297.1 446.5,1322.9 447.4,1303.0 448.0,1300.0 448.5,1332.0 448.3,1331.5 449.2,1301.8 450.1,1321.8 451.0,1312.0 451.9,1333.7 452.0,1304.0 452.5,1336.0 452.8,1307.4 453.7,1329.9 454.6,1324.2 455.5,1339.5 456.0,1312.0 456.5,1340.0 456.4,1311.4 457.3,1341.2 458.2,1311.3 459.0,1306.0 459.5,1346.0 459.1,1346.3 460.0,1308.7 460.9,1351.8 461.8,1315.6 462.0,1314.0 462.5,1356.0 462.7,1344.8 463.6,1323.1 464.5,1352.7 465.0,1320.0 465.5,1352.0 465.4,1319.7 466.3,1344.7 467.2,1328.2 468.0,1318.0 468.5,1340.0 468.1,1330.2 469.0,1317.0 469.9,1328.9 470.8,1324.4 471.7,1336.6 472.0,1310.0 472.5,1338.0 472.6,1319.2 473.5,1343.4 474.4,1316.2 475.3,1348.1 476.0,1320.0 476.5,1356.0 476.2,1319.6 477.1,1345.8 478.0,1327.0 478.9,1332.7 479.8,1314.8 480.0,1312.0 480.5,1344.0 480.7,1345.3 481.6,1327.4 482.5,1335.1 483.4,1332.5 484.0,1314.0 484.5,1352.0 484.3,1345.3 485.2,1319.8 486.1,1342.1 487.0,1311.2 487.9,1335.7 488.0,1310.0 488.5,1336.0 488.8,1317.2 489.7,1342.8 490.6,1318.3 491.0,1310.0 491.5,1350.0 491.5,1344.8 492.4,1312.7 493.3,1326.6 494.2,1310.2 495.1,1335.9 496.0,1310.0 496.5,1336.0 496.0,1310.1 496.9,1325.3 497.8,1315.3 498.7,1339.4 499.6,1315.9 500.5,1339.3 501.0,1318.0 501.5,1344.0 501.4,1319.7 502.3,1349.8 503.2,1319.1 504.1,1355.9 505.0,1320.0 505.5,1362.0 505.0,1326.0 505.9,1356.1 506.8,1338.3 507.7,1343.0 508.6,1340.1 509.0,1328.0 509.5,1354.0 509.5,1346.0 510.4,1330.3 511.3,1352.2 512.2,1329.5 513.0,1328.0 513.5,1356.0 513.1,1354.5 514.0,1329.0 514.9,1347.8 515.8,1331.2 516.7,1356.0 517.0,1332.0 517.5,1356.0 517.6,1332.7 518.5,1347.5 519.4,1328.5 520.3,1349.1 521.2,1327.9 521.6,1322.0 522.1,1348.0 522.1,1350.2 523.0,1329.4 523.9,1355.2 524.8,1341.7 525.0,1340.0 525.5,1364.0 525.7,1354.8 526.6,1341.5 527.5,1356.8 528.4,1340.0 529.0,1340.0 529.5,1364.0 529.3,1364.3 530.2,1342.8 531.1,1365.7 532.0,1337.0 532.9,1367.8 533.0,1336.0 533.5,1368.0 533.8,1335.9 534.7,1362.3 535.6,1334.8 536.0,1330.0 536.5,1360.0 536.5,1349.4 537.4,1333.6 538.3,1370.1 539.2,1340.3 540.0,1336.0 540.5,1378.0 540.1,1378.1 541.0,1338.2 541.9,1378.5 542.8,1338.3 543.7,1381.7 544.0,1336.0 544.5,1382.0 544.6,1344.0 545.5,1372.9 546.4,1354.9 547.3,1363.3 548.0,1354.0 548.5,1374.0 548.2,1354.9 549.1,1369.7 550.0,1356.6 550.9,1371.9 551.0,1356.0 551.5,1372.0 551.8,1357.0 552.7,1357.5 553.6,1346.1 554.0,1332.0 554.5,1356.0 554.5,1347.6 555.4,1341.6 556.3,1354.8 557.2,1328.8 558.0,1328.0 558.5,1354.0 558.1,1353.6 559.0,1325.7 559.9,1344.8 560.8,1319.1 561.0,1316.0 561.5,1350.0 561.7,1348.0 562.6,1331.0 563.5,1355.0 564.0,1328.0 564.5,1356.0 564.4,1334.6 565.3,1357.3 566.2,1332.8 567.1,1353.0 568.0,1336.0 568.5,1360.0 568.0,1341.1 568.9,1357.5 569.8,1324.6 570.7,1343.8 571.6,1312.4 572.4,1306.0 572.9,1356.0 572.5,1356.9 573.4,1314.1 574.3,1372.9 575.2,1344.0 576.0,1332.0 576.5,1388.0 576.1,1386.8 577.0,1350.8 577.9,1367.1 578.8,1307.4 579.0,1304.0 579.5,1356.0 579.7,1350.2 580.6,1313.4 581.5,1358.8 582.4,1321.1 583.0,1324.0 583.5,1364.0 583.3,1362.4 584.2,1330.0 585.1,1366.7 586.0,1351.8 586.9,1369.2 587.0,1344.0 587.5,1370.0 587.8,1343.6 588.7,1370.4 589.6,1357.3 590.0,1340.0 590.5,1384.0 590.5,1382.9 591.4,1344.8 592.3,1374.6 593.0,1346.0 593.5,1384.0 593.2,1356.4 594.1,1372.8 595.0,1331.3 595.9,1372.0 596.8,1331.6 597.0,1316.0 597.5,1368.0 597.7,1355.3 598.6,1338.7 599.5,1351.0 600.4,1326.8 601.0,1326.0 601.5,1360.0 601.3,1360.9 602.2,1346.0 603.1,1361.0 604.0,1347.7 604.9,1368.5 605.0,1350.0 605.5,1374.0 605.8,1344.6 606.7,1371.4 607.6,1333.7 608.0,1324.0 608.5,1372.0 608.5,1370.1 609.4,1342.4 610.3,1361.1 611.0,1340.0 611.5,1386.0 611.2,1355.0 612.1,1374.8 613.0,1324.9 613.9,1341.0 614.0,1314.0 614.5,1362.0 614.8,1315.9 615.7,1344.1 616.6,1312.0 617.5,1351.7 618.4,1315.0 619.0,1310.0 619.5,1352.0 619.3,1334.9 620.0,1308.6 620.5,1335.2 620.2,1319.7 621.1,1340.6 622.0,1316.3 622.9,1343.1 623.8,1312.6 623.8,1312.4 624.3,1354.2 624.7,1343.2 625.6,1323.4 626.5,1343.5 627.4,1323.6 627.6,1323.8 628.1,1371.3 628.3,1363.0 629.2,1325.1 630.1,1352.4 631.0,1328.6 631.4,1323.8 631.9,1352.3 631.9,1349.3 632.8,1328.8 633.7,1349.1 634.6,1334.2 635.2,1335.2 635.7,1350.4 635.5,1344.8 636.4,1335.2 637.3,1357.5 638.2,1331.3 639.0,1329.5 639.5,1367.5 639.1,1366.4 640.0,1343.5 640.9,1358.4 641.3,1318.1 641.8,1358.0 641.8,1333.7 642.7,1348.6 643.6,1338.0 644.5,1347.2 644.7,1327.6 645.2,1346.6 645.4,1338.0 646.3,1345.0 647.2,1333.3 648.1,1350.8 648.5,1331.4 649.0,1358.0 649.0,1337.1 649.9,1353.9 650.8,1332.6 651.7,1352.8 652.3,1325.7 652.8,1352.3 652.6,1325.9 653.5,1348.3 654.4,1329.2 655.3,1344.1 656.1,1327.6 656.6,1358.0 656.2,1328.3 657.1,1348.7 658.0,1345.2 658.9,1347.4 659.8,1345.7 659.9,1329.5 660.4,1361.8 660.7,1358.4 661.6,1327.4 662.5,1351.1 662.8,1325.7 663.3,1350.4 663.4,1323.2 664.3,1336.9 665.2,1312.7 665.6,1310.5 666.1,1325.7 666.1,1325.7 667.0,1315.1 667.9,1324.7 668.8,1304.7 669.7,1323.5 669.8,1297.2 670.3,1325.7 670.6,1304.3 671.5,1314.6 672.4,1298.4 673.2,1297.2 673.7,1320.0 673.3,1317.3 674.2,1291.9 675.1,1318.0 676.0,1282.7 676.1,1282.0 676.6,1318.1 676.9,1315.4 677.8,1283.1 678.7,1308.6 678.9,1282.0 679.4,1312.4 679.6,1287.2 680.5,1319.9 681.4,1307.0 681.8,1299.1 682.3,1327.6 682.3,1328.0 683.2,1300.1 684.1,1329.2 684.6,1301.0 685.1,1329.5 685.0,1309.6 685.9,1319.3 686.8,1294.2 687.5,1280.1 688.0,1320.0 687.7,1299.3 688.6,1279.0 689.5,1293.4 690.3,1276.3 690.8,1301.0 690.4,1276.0 691.3,1307.7 692.2,1275.0 693.1,1308.7 693.2,1255.4 693.7,1333.3 694.0,1252.8 694.9,1312.3 695.8,1243.5 696.7,1301.6 697.0,1238.3 697.5,1301.0 697.6,1269.6 698.5,1271.0 699.4,1234.0 700.3,1278.5 701.2,1251.4 701.3,1209.8 701.8,1306.7 702.1,1302.3 703.0,1268.9 703.9,1297.7 704.6,1249.7 705.1,1301.0 704.8,1250.2 705.7,1294.6 706.6,1258.3 707.4,1251.6 707.9,1299.1 707.5,1287.9 708.4,1251.8 709.3,1285.2 710.2,1233.5 710.3,1223.1 710.8,1278.2 711.1,1251.1 712.0,1227.3 712.9,1241.7 713.1,1209.8 713.6,1274.4 713.8,1212.8 714.7,1251.0 715.6,1195.4 716.3,1190.8 716.8,1276.3 716.5,1240.5 717.4,1202.4 718.3,1240.9 718.8,1206.0 719.3,1263.0 719.2,1203.7 720.1,1244.6 720.7,1186.1 721.2,1251.6 721.0,1210.2 721.9,1237.7 722.8,1199.2 723.6,1188.9 724.1,1255.4 723.7,1222.6 724.6,1202.2 725.5,1260.5 726.4,1229.7 726.4,1225.0 726.9,1263.0 727.3,1251.0 728.2,1242.2 729.1,1291.8 729.3,1234.5 729.8,1295.3 730.0,1219.0 730.9,1268.4 731.2,1194.6 731.7,1270.6 731.8,1209.8 732.7,1271.8 733.6,1237.4 734.0,1234.5 734.5,1282.0 734.5,1279.3 735.4,1244.7 736.3,1272.9 737.2,1208.0 737.4,1206.0 737.9,1270.6 738.1,1271.5 739.0,1241.5 739.9,1283.3 740.7,1211.7 741.2,1287.7 740.8,1214.6 741.7,1256.9 742.6,1230.8 743.5,1268.1 743.5,1236.4 744.0,1285.8 744.4,1230.6 745.3,1261.9 745.4,1224.1 745.9,1287.7 746.2,1225.6 747.1,1289.8 748.0,1243.1 748.9,1257.5 749.2,1226.9 749.7,1293.4 749.8,1260.2 750.7,1276.2 751.6,1257.3 752.5,1259.6 753.0,1228.8 753.5,1295.3 753.4,1237.0 754.3,1292.1 755.2,1251.3 756.1,1285.0 757.0,1230.5 757.2,1228.8 757.7,1285.8 757.9,1283.0 758.8,1243.2 759.7,1294.2 760.6,1259.9 760.6,1259.2 761.1,1297.2 761.5,1311.6 762.4,1291.9 762.5,1274.4 763.0,1344.7 763.3,1307.0 764.2,1293.6 765.1,1301.2 766.0,1282.2 766.3,1274.4 766.8,1316.2 766.9,1303.6 767.8,1275.2 768.7,1308.5 769.6,1262.6 770.5,1290.7 771.1,1257.3 771.6,1301.0 771.4,1259.1 772.3,1291.8 773.2,1269.2 774.1,1310.1 774.9,1272.5 775.4,1312.4 775.0,1277.2 775.9,1308.9 776.8,1265.5 777.7,1310.3 778.6,1260.5 779.5,1308.4 779.6,1255.4 780.1,1310.5 780.4,1267.1 781.3,1311.8 782.2,1254.7 783.1,1303.7 783.4,1247.8 783.9,1314.3 784.0,1278.5 784.9,1307.2 785.8,1249.5 786.3,1249.7 786.8,1301.0 786.7,1304.6 787.6,1261.8 788.5,1320.9 789.4,1276.5 790.1,1282.0 790.6,1335.2 790.3,1333.9 791.2,1278.7 792.1,1324.3 793.0,1281.9 793.9,1268.7 794.4,1323.8 793.9,1321.4 794.8,1272.3 795.7,1324.7 796.6,1279.2 797.5,1325.3 797.7,1282.0 798.2,1325.7 798.4,1286.1 799.3,1306.4 800.2,1292.1 800.5,1283.9 801.0,1318.1 801.1,1318.0 802.0,1283.2 802.9,1319.3 803.8,1284.8 804.3,1282.0 804.8,1320.0 804.7,1318.1 805.6,1289.9 806.5,1318.5 807.2,1282.0 807.7,1318.1 807.4,1273.1" fill="none" stroke="#12415E" stroke-width="2.5" stroke-linejoin="round" />
<polygon points="240.5,1551.0 250.3,1560.8 240.5,1570.6 230.7,1560.8" fill="#051959"/>
<polygon points="280.1,1551.0 289.9,1560.8 280.1,1570.6 270.3,1560.8" fill="#051959"/>
<polygon points="321.5,1551.0 331.3,1560.8 321.5,1570.6 311.7,1560.8" fill="#051959"/>
<polygon points="369.5,1551.0 379.3,1560.8 369.5,1570.6 359.7,1560.8" fill="#051959"/>
<polygon points="419.9,1550.8 429.7,1560.6 419.9,1570.4 410.1,1560.6" fill="#051959"/>
<polygon points="475.1,1549.7 484.9,1559.5 475.1,1569.3 465.3,1559.5" fill="#051959"/>
<polygon points="497.0,1548.2 506.8,1558.0 497.0,1567.8 487.2,1558.0" fill="#051959"/>
<polygon points="518.6,1545.8 528.4,1555.6 518.6,1565.4 508.8,1555.6" fill="#051959"/>
<polygon points="542.8,1542.1 552.6,1551.9 542.8,1561.7 533.0,1551.9" fill="#051959"/>
<polygon points="555.8,1534.7 565.6,1544.5 555.8,1554.3 546.0,1544.5" fill="#051959"/>
<polygon points="565.1,1531.6 574.9,1541.4 565.1,1551.2 555.3,1541.4" fill="#051959"/>
<polygon points="580.0,1525.1 589.8,1534.9 580.0,1544.7 570.2,1534.9" fill="#051959"/>
<polygon points="584.3,1517.9 594.1,1527.7 584.3,1537.5 574.5,1527.7" fill="#051959"/>
<polygon points="589.9,1511.1 599.7,1520.9 589.9,1530.7 580.1,1520.9" fill="#051959"/>
<polygon points="603.9,1505.5 613.7,1515.3 603.9,1525.1 594.1,1515.3" fill="#051959"/>
<polygon points="625.6,1494.1 635.4,1503.9 625.6,1513.7 615.8,1503.9" fill="#051959"/>
<polygon points="654.4,1480.1 664.2,1489.9 654.4,1499.7 644.6,1489.9" fill="#051959"/>
<polygon points="673.6,1470.2 683.4,1480.0 673.6,1489.8 663.8,1480.0" fill="#051959"/>
<polygon points="685.4,1469.2 695.2,1479.0 685.4,1488.8 675.6,1479.0" fill="#051959"/>
<polygon points="703.0,1460.0 712.8,1469.8 703.0,1479.6 693.2,1469.8" fill="#051959"/>
<polygon points="727.2,1457.8 737.0,1467.6 727.2,1477.4 717.4,1467.6" fill="#051959"/>
<polygon points="755.8,1447.6 765.6,1457.4 755.8,1467.2 746.0,1457.4" fill="#051959"/>
<polygon points="769.0,1435.2 778.8,1445.0 769.0,1454.8 759.2,1445.0" fill="#051959"/>
<polygon points="785.8,1421.2 795.6,1431.0 785.8,1440.8 776.0,1431.0" fill="#051959"/>
</svg></body></html>
